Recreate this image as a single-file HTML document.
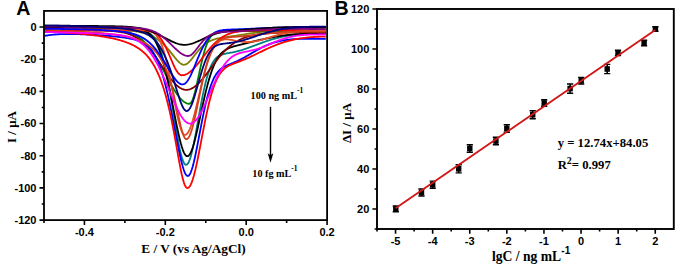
<!DOCTYPE html><html><head><meta charset="utf-8"><style>html,body{margin:0;padding:0;background:#fff;}svg{display:block;}</style></head><body>
<svg width="675" height="265" viewBox="0 0 675 265">
<rect width="675" height="265" fill="#fff"/>
<g fill="none" stroke-width="1.8" stroke-linejoin="round">
<path d="M44.8 27.96 L45.8 27.97 L46.8 27.98 L47.8 27.99 L48.8 28 L49.8 28.01 L50.8 28.02 L51.8 28.04 L52.8 28.05 L53.8 28.06 L54.8 28.07 L55.8 28.08 L56.8 28.09 L57.8 28.1 L58.8 28.12 L59.8 28.13 L60.8 28.14 L61.8 28.16 L62.8 28.17 L63.8 28.18 L64.8 28.2 L65.8 28.21 L66.8 28.22 L67.8 28.24 L68.8 28.25 L69.8 28.27 L70.8 28.28 L71.8 28.3 L72.8 28.31 L73.8 28.33 L74.8 28.35 L75.8 28.36 L76.8 28.38 L77.8 28.4 L78.8 28.42 L79.8 28.43 L80.8 28.45 L81.8 28.47 L82.8 28.49 L83.8 28.51 L84.8 28.53 L85.8 28.55 L86.8 28.58 L87.8 28.6 L88.8 28.62 L89.8 28.64 L90.8 28.67 L91.8 28.69 L92.8 28.72 L93.8 28.74 L94.8 28.77 L95.8 28.8 L96.8 28.83 L97.8 28.85 L98.8 28.88 L99.8 28.91 L100.8 28.95 L101.8 28.98 L102.8 29.01 L103.8 29.05 L104.8 29.08 L105.8 29.12 L106.8 29.16 L107.8 29.2 L108.8 29.24 L109.8 29.28 L110.8 29.32 L111.8 29.37 L112.8 29.42 L113.8 29.46 L114.8 29.52 L115.8 29.57 L116.8 29.62 L117.8 29.68 L118.8 29.74 L119.8 29.8 L120.8 29.86 L121.8 29.93 L122.8 30 L123.8 30.08 L124.8 30.15 L125.8 30.23 L126.8 30.32 L127.8 30.41 L128.8 30.51 L129.8 30.61 L130.8 30.72 L131.8 30.83 L132.8 30.95 L133.8 31.08 L134.8 31.22 L135.8 31.36 L136.8 31.52 L137.8 31.69 L138.8 31.87 L139.8 32.06 L140.8 32.27 L141.8 32.5 L142.8 32.74 L143.8 33 L144.8 33.28 L145.8 33.58 L146.8 33.91 L147.8 34.26 L148.8 34.63 L149.8 35.04 L150.8 35.47 L151.8 35.94 L152.8 36.43 L153.8 36.97 L154.8 37.54 L155.8 38.15 L156.8 38.79 L157.8 39.48 L158.8 40.21 L159.8 40.98 L160.8 41.8 L161.8 42.66 L162.8 43.56 L163.8 44.51 L164.8 45.51 L165.8 46.55 L166.8 47.63 L167.8 48.76 L168.8 49.93 L169.8 51.13 L170.8 52.37 L171.8 53.63 L172.8 54.91 L173.8 56.18 L174.8 57.45 L175.8 58.69 L176.8 59.87 L177.8 60.98 L178.8 62 L179.8 62.89 L180.8 63.63 L181.8 64.2 L182.8 64.58 L183.8 64.77 L184.8 64.71 L185.8 64.41 L186.8 63.89 L187.8 63.17 L188.8 62.27 L189.8 61.23 L190.8 60.09 L191.8 58.86 L192.8 57.59 L193.8 56.29 L194.8 54.99 L195.8 53.7 L196.8 52.44 L197.8 51.22 L198.8 50.04 L199.8 48.93 L200.8 47.87 L201.8 46.87 L202.8 45.94 L203.8 45.08 L204.8 44.28 L205.8 43.54 L206.8 42.86 L207.8 42.24 L208.8 41.68 L209.8 41.17 L210.8 40.7 L211.8 40.28 L212.8 39.9 L213.8 39.56 L214.8 39.25 L215.8 38.97 L216.8 38.71 L217.8 38.48 L218.8 38.27 L219.8 38.07 L220.8 37.88 L221.8 37.71 L222.8 37.54 L223.8 37.39 L224.8 37.23 L225.8 37.09 L226.8 36.94 L227.8 36.8 L228.8 36.66 L229.8 36.52 L230.8 36.38 L231.8 36.24 L232.8 36.1 L233.8 35.95 L234.8 35.81 L235.8 35.66 L236.8 35.52 L237.8 35.37 L238.8 35.22 L239.8 35.07 L240.8 34.91 L241.8 34.76 L242.8 34.61 L243.8 34.45 L244.8 34.29 L245.8 34.14 L246.8 33.98 L247.8 33.83 L248.8 33.67 L249.8 33.51 L250.8 33.36 L251.8 33.21 L252.8 33.05 L253.8 32.9 L254.8 32.75 L255.8 32.6 L256.8 32.46 L257.8 32.31 L258.8 32.17 L259.8 32.03 L260.8 31.9 L261.8 31.76 L262.8 31.63 L263.8 31.5 L264.8 31.38 L265.8 31.26 L266.8 31.14 L267.8 31.02 L268.8 30.91 L269.8 30.8 L270.8 30.69 L271.8 30.59 L272.8 30.49 L273.8 30.4 L274.8 30.31 L275.8 30.22 L276.8 30.14 L277.8 30.05 L278.8 29.98 L279.8 29.9 L280.8 29.83 L281.8 29.76 L282.8 29.7 L283.8 29.64 L284.8 29.58 L285.8 29.52 L286.8 29.47 L287.8 29.42 L288.8 29.37 L289.8 29.33 L290.8 29.29 L291.8 29.25 L292.8 29.21 L293.8 29.17 L294.8 29.14 L295.8 29.11 L296.8 29.08 L297.8 29.05 L298.8 29.02 L299.8 29 L300.8 28.98 L301.8 28.96 L302.8 28.94 L303.8 28.92 L304.8 28.9 L305.8 28.89 L306.8 28.87 L307.8 28.86 L308.8 28.85 L309.8 28.84 L310.8 28.83 L311.8 28.82 L312.8 28.81 L313.8 28.8 L314.8 28.79 L315.8 28.79 L316.8 28.78 L317.8 28.77 L318.8 28.77 L319.8 28.77 L320.8 28.76 L321.8 28.76 L322.8 28.75 L323.8 28.75 L324.8 28.75 L325.8 28.75" stroke="#808000"/>
<path d="M44.8 28.51 L45.8 28.52 L46.8 28.53 L47.8 28.55 L48.8 28.56 L49.8 28.57 L50.8 28.58 L51.8 28.6 L52.8 28.61 L53.8 28.62 L54.8 28.63 L55.8 28.65 L56.8 28.66 L57.8 28.67 L58.8 28.68 L59.8 28.7 L60.8 28.71 L61.8 28.72 L62.8 28.73 L63.8 28.74 L64.8 28.76 L65.8 28.77 L66.8 28.78 L67.8 28.79 L68.8 28.81 L69.8 28.82 L70.8 28.83 L71.8 28.84 L72.8 28.86 L73.8 28.87 L74.8 28.88 L75.8 28.89 L76.8 28.91 L77.8 28.92 L78.8 28.93 L79.8 28.94 L80.8 28.96 L81.8 28.97 L82.8 28.98 L83.8 29 L84.8 29.01 L85.8 29.02 L86.8 29.04 L87.8 29.05 L88.8 29.06 L89.8 29.08 L90.8 29.09 L91.8 29.11 L92.8 29.12 L93.8 29.14 L94.8 29.15 L95.8 29.17 L96.8 29.19 L97.8 29.21 L98.8 29.23 L99.8 29.25 L100.8 29.27 L101.8 29.3 L102.8 29.32 L103.8 29.35 L104.8 29.38 L105.8 29.41 L106.8 29.45 L107.8 29.49 L108.8 29.53 L109.8 29.58 L110.8 29.63 L111.8 29.69 L112.8 29.76 L113.8 29.83 L114.8 29.9 L115.8 29.99 L116.8 30.09 L117.8 30.19 L118.8 30.31 L119.8 30.44 L120.8 30.58 L121.8 30.74 L122.8 30.91 L123.8 31.1 L124.8 31.31 L125.8 31.54 L126.8 31.8 L127.8 32.07 L128.8 32.38 L129.8 32.71 L130.8 33.07 L131.8 33.46 L132.8 33.88 L133.8 34.34 L134.8 34.84 L135.8 35.38 L136.8 35.96 L137.8 36.58 L138.8 37.25 L139.8 37.96 L140.8 38.73 L141.8 39.54 L142.8 40.41 L143.8 41.33 L144.8 42.31 L145.8 43.34 L146.8 44.43 L147.8 45.58 L148.8 46.79 L149.8 48.05 L150.8 49.37 L151.8 50.75 L152.8 52.19 L153.8 53.68 L154.8 55.22 L155.8 56.81 L156.8 58.45 L157.8 60.14 L158.8 61.86 L159.8 63.63 L160.8 65.43 L161.8 67.25 L162.8 69.1 L163.8 70.97 L164.8 72.85 L165.8 74.74 L166.8 76.62 L167.8 78.5 L168.8 80.37 L169.8 82.21 L170.8 84.02 L171.8 85.8 L172.8 87.53 L173.8 89.21 L174.8 90.83 L175.8 92.39 L176.8 93.87 L177.8 95.28 L178.8 96.59 L179.8 97.81 L180.8 98.93 L181.8 99.95 L182.8 100.86 L183.8 101.65 L184.8 102.32 L185.8 102.87 L186.8 103.29 L187.8 103.59 L188.8 103.76 L189.8 103.76 L190.8 103.09 L191.8 101.59 L192.8 99.31 L193.8 96.35 L194.8 92.79 L195.8 88.77 L196.8 84.4 L197.8 79.8 L198.8 75.1 L199.8 70.41 L200.8 65.83 L201.8 61.44 L202.8 57.3 L203.8 53.48 L204.8 50.01 L205.8 46.89 L206.8 44.14 L207.8 41.75 L208.8 39.7 L209.8 37.97 L210.8 36.53 L211.8 35.34 L212.8 34.37 L213.8 33.6 L214.8 32.98 L215.8 32.5 L216.8 32.13 L217.8 31.84 L218.8 31.63 L219.8 31.46 L220.8 31.34 L221.8 31.26 L222.8 31.19 L223.8 31.15 L224.8 31.12 L225.8 31.09 L226.8 31.08 L227.8 31.07 L228.8 31.06 L229.8 31.06 L230.8 31.06 L231.8 31.06 L232.8 31.06 L233.8 31.06 L234.8 31.06 L235.8 31.07 L236.8 31.07 L237.8 31.08 L238.8 31.08 L239.8 31.09 L240.8 31.09 L241.8 31.1 L242.8 31.11 L243.8 31.12 L244.8 31.12 L245.8 31.13 L246.8 31.14 L247.8 31.15 L248.8 31.15 L249.8 31.16 L250.8 31.17 L251.8 31.18 L252.8 31.19 L253.8 31.2 L254.8 31.21 L255.8 31.22 L256.8 31.23 L257.8 31.24 L258.8 31.25 L259.8 31.26 L260.8 31.27 L261.8 31.28 L262.8 31.29 L263.8 31.3 L264.8 31.31 L265.8 31.32 L266.8 31.33 L267.8 31.34 L268.8 31.35 L269.8 31.36 L270.8 31.37 L271.8 31.38 L272.8 31.39 L273.8 31.4 L274.8 31.41 L275.8 31.42 L276.8 31.44 L277.8 31.45 L278.8 31.46 L279.8 31.47 L280.8 31.48 L281.8 31.49 L282.8 31.5 L283.8 31.51 L284.8 31.53 L285.8 31.54 L286.8 31.55 L287.8 31.56 L288.8 31.57 L289.8 31.58 L290.8 31.59 L291.8 31.61 L292.8 31.62 L293.8 31.63 L294.8 31.64 L295.8 31.65 L296.8 31.66 L297.8 31.68 L298.8 31.69 L299.8 31.7 L300.8 31.71 L301.8 31.72 L302.8 31.73 L303.8 31.75 L304.8 31.76 L305.8 31.77 L306.8 31.78 L307.8 31.79 L308.8 31.8 L309.8 31.82 L310.8 31.83 L311.8 31.84 L312.8 31.85 L313.8 31.86 L314.8 31.88 L315.8 31.89 L316.8 31.9 L317.8 31.91 L318.8 31.92 L319.8 31.94 L320.8 31.95 L321.8 31.96 L322.8 31.97 L323.8 31.98 L324.8 32 L325.8 32.01" stroke="#008000"/>
<path d="M44.8 29.01 L45.8 29.03 L46.8 29.04 L47.8 29.06 L48.8 29.08 L49.8 29.09 L50.8 29.11 L51.8 29.12 L52.8 29.14 L53.8 29.16 L54.8 29.17 L55.8 29.19 L56.8 29.2 L57.8 29.22 L58.8 29.24 L59.8 29.25 L60.8 29.27 L61.8 29.28 L62.8 29.3 L63.8 29.31 L64.8 29.33 L65.8 29.35 L66.8 29.36 L67.8 29.38 L68.8 29.39 L69.8 29.41 L70.8 29.43 L71.8 29.44 L72.8 29.46 L73.8 29.47 L74.8 29.49 L75.8 29.51 L76.8 29.52 L77.8 29.54 L78.8 29.55 L79.8 29.57 L80.8 29.58 L81.8 29.6 L82.8 29.62 L83.8 29.63 L84.8 29.65 L85.8 29.66 L86.8 29.68 L87.8 29.7 L88.8 29.71 L89.8 29.73 L90.8 29.74 L91.8 29.76 L92.8 29.78 L93.8 29.79 L94.8 29.81 L95.8 29.82 L96.8 29.84 L97.8 29.86 L98.8 29.87 L99.8 29.89 L100.8 29.9 L101.8 29.92 L102.8 29.93 L103.8 29.95 L104.8 29.97 L105.8 29.98 L106.8 30 L107.8 30.01 L108.8 30.03 L109.8 30.05 L110.8 30.06 L111.8 30.08 L112.8 30.09 L113.8 30.11 L114.8 30.13 L115.8 30.14 L116.8 30.16 L117.8 30.17 L118.8 30.19 L119.8 30.21 L120.8 30.22 L121.8 30.24 L122.8 30.25 L123.8 30.27 L124.8 30.29 L125.8 30.3 L126.8 30.32 L127.8 30.34 L128.8 30.36 L129.8 30.38 L130.8 30.4 L131.8 30.42 L132.8 30.45 L133.8 30.48 L134.8 30.51 L135.8 30.55 L136.8 30.6 L137.8 30.65 L138.8 30.72 L139.8 30.8 L140.8 30.9 L141.8 31.02 L142.8 31.17 L143.8 31.35 L144.8 31.57 L145.8 31.84 L146.8 32.17 L147.8 32.57 L148.8 33.06 L149.8 33.63 L150.8 34.32 L151.8 35.14 L152.8 36.1 L153.8 37.23 L154.8 38.54 L155.8 40.06 L156.8 41.8 L157.8 43.79 L158.8 46.05 L159.8 48.58 L160.8 51.42 L161.8 54.57 L162.8 58.04 L163.8 61.84 L164.8 65.98 L165.8 70.43 L166.8 75.2 L167.8 80.28 L168.8 85.63 L169.8 91.23 L170.8 97.04 L171.8 103.01 L172.8 109.11 L173.8 115.26 L174.8 121.4 L175.8 127.45 L176.8 133.35 L177.8 139 L178.8 144.31 L179.8 149.19 L180.8 153.56 L181.8 157.32 L182.8 160.4 L183.8 162.71 L184.8 164.21 L185.8 164.86 L186.8 164.68 L187.8 163.7 L188.8 161.96 L189.8 159.5 L190.8 156.36 L191.8 152.62 L192.8 148.35 L193.8 143.63 L194.8 138.55 L195.8 133.21 L196.8 127.67 L197.8 122.05 L198.8 116.41 L199.8 110.83 L200.8 105.38 L201.8 100.12 L202.8 95.1 L203.8 90.36 L204.8 85.93 L205.8 81.83 L206.8 78.08 L207.8 74.67 L208.8 71.6 L209.8 68.87 L210.8 66.46 L211.8 64.34 L212.8 62.51 L213.8 60.93 L214.8 59.59 L215.8 58.45 L216.8 57.49 L217.8 56.69 L218.8 56.02 L219.8 55.47 L220.8 55.01 L221.8 54.63 L222.8 54.31 L223.8 54.04 L224.8 53.8 L225.8 53.59 L226.8 53.4 L227.8 53.22 L228.8 53.05 L229.8 52.88 L230.8 52.7 L231.8 52.51 L232.8 52.32 L233.8 52.12 L234.8 51.9 L235.8 51.68 L236.8 51.44 L237.8 51.19 L238.8 50.92 L239.8 50.64 L240.8 50.36 L241.8 50.05 L242.8 49.74 L243.8 49.42 L244.8 49.09 L245.8 48.75 L246.8 48.4 L247.8 48.05 L248.8 47.69 L249.8 47.32 L250.8 46.95 L251.8 46.58 L252.8 46.2 L253.8 45.82 L254.8 45.44 L255.8 45.06 L256.8 44.68 L257.8 44.3 L258.8 43.92 L259.8 43.55 L260.8 43.18 L261.8 42.81 L262.8 42.44 L263.8 42.09 L264.8 41.73 L265.8 41.38 L266.8 41.04 L267.8 40.71 L268.8 40.38 L269.8 40.06 L270.8 39.74 L271.8 39.44 L272.8 39.14 L273.8 38.85 L274.8 38.57 L275.8 38.3 L276.8 38.04 L277.8 37.79 L278.8 37.54 L279.8 37.31 L280.8 37.08 L281.8 36.87 L282.8 36.66 L283.8 36.46 L284.8 36.27 L285.8 36.08 L286.8 35.91 L287.8 35.75 L288.8 35.59 L289.8 35.44 L290.8 35.3 L291.8 35.16 L292.8 35.04 L293.8 34.92 L294.8 34.81 L295.8 34.7 L296.8 34.6 L297.8 34.51 L298.8 34.42 L299.8 34.34 L300.8 34.27 L301.8 34.2 L302.8 34.14 L303.8 34.08 L304.8 34.02 L305.8 33.97 L306.8 33.93 L307.8 33.88 L308.8 33.85 L309.8 33.81 L310.8 33.78 L311.8 33.75 L312.8 33.73 L313.8 33.71 L314.8 33.69 L315.8 33.67 L316.8 33.66 L317.8 33.65 L318.8 33.64 L319.8 33.63 L320.8 33.62 L321.8 33.62 L322.8 33.62 L323.8 33.62 L324.8 33.62 L325.8 33.62" stroke="#008080"/>
<path d="M44.8 27.02 L45.8 27.04 L46.8 27.06 L47.8 27.08 L48.8 27.1 L49.8 27.12 L50.8 27.14 L51.8 27.17 L52.8 27.19 L53.8 27.21 L54.8 27.23 L55.8 27.25 L56.8 27.27 L57.8 27.29 L58.8 27.31 L59.8 27.33 L60.8 27.36 L61.8 27.38 L62.8 27.4 L63.8 27.42 L64.8 27.44 L65.8 27.46 L66.8 27.48 L67.8 27.5 L68.8 27.53 L69.8 27.55 L70.8 27.57 L71.8 27.59 L72.8 27.61 L73.8 27.63 L74.8 27.65 L75.8 27.67 L76.8 27.7 L77.8 27.72 L78.8 27.74 L79.8 27.76 L80.8 27.78 L81.8 27.8 L82.8 27.82 L83.8 27.84 L84.8 27.86 L85.8 27.89 L86.8 27.91 L87.8 27.93 L88.8 27.95 L89.8 27.97 L90.8 27.99 L91.8 28.01 L92.8 28.03 L93.8 28.06 L94.8 28.08 L95.8 28.1 L96.8 28.12 L97.8 28.14 L98.8 28.16 L99.8 28.18 L100.8 28.2 L101.8 28.23 L102.8 28.25 L103.8 28.27 L104.8 28.29 L105.8 28.31 L106.8 28.33 L107.8 28.35 L108.8 28.37 L109.8 28.39 L110.8 28.42 L111.8 28.44 L112.8 28.46 L113.8 28.48 L114.8 28.5 L115.8 28.52 L116.8 28.54 L117.8 28.57 L118.8 28.59 L119.8 28.61 L120.8 28.63 L121.8 28.66 L122.8 28.68 L123.8 28.7 L124.8 28.73 L125.8 28.76 L126.8 28.78 L127.8 28.81 L128.8 28.85 L129.8 28.88 L130.8 28.92 L131.8 28.97 L132.8 29.02 L133.8 29.08 L134.8 29.15 L135.8 29.24 L136.8 29.33 L137.8 29.45 L138.8 29.58 L139.8 29.75 L140.8 29.94 L141.8 30.17 L142.8 30.44 L143.8 30.76 L144.8 31.14 L145.8 31.58 L146.8 32.1 L147.8 32.7 L148.8 33.4 L149.8 34.22 L150.8 35.15 L151.8 36.22 L152.8 37.44 L153.8 38.82 L154.8 40.38 L155.8 42.13 L156.8 44.08 L157.8 46.25 L158.8 48.65 L159.8 51.27 L160.8 54.14 L161.8 57.25 L162.8 60.61 L163.8 64.22 L164.8 68.06 L165.8 72.14 L166.8 76.43 L167.8 80.93 L168.8 85.61 L169.8 90.44 L170.8 95.41 L171.8 100.47 L172.8 105.6 L173.8 110.75 L174.8 115.87 L175.8 120.93 L176.8 125.87 L177.8 130.64 L178.8 135.17 L179.8 139.42 L180.8 143.31 L181.8 146.79 L182.8 149.81 L183.8 152.3 L184.8 154.21 L185.8 155.51 L186.8 156.17 L187.8 156.18 L188.8 155.55 L189.8 154.31 L190.8 152.49 L191.8 150.13 L192.8 147.28 L193.8 143.99 L194.8 140.33 L195.8 136.36 L196.8 132.13 L197.8 127.72 L198.8 123.17 L199.8 118.54 L200.8 113.89 L201.8 109.25 L202.8 104.67 L203.8 100.19 L204.8 95.84 L205.8 91.65 L206.8 87.64 L207.8 83.84 L208.8 80.24 L209.8 76.87 L210.8 73.72 L211.8 70.81 L212.8 68.12 L213.8 65.66 L214.8 63.42 L215.8 61.38 L216.8 59.54 L217.8 57.88 L218.8 56.4 L219.8 55.08 L220.8 53.9 L221.8 52.86 L222.8 51.93 L223.8 51.11 L224.8 50.38 L225.8 49.73 L226.8 49.15 L227.8 48.64 L228.8 48.18 L229.8 47.76 L230.8 47.38 L231.8 47.03 L232.8 46.71 L233.8 46.41 L234.8 46.12 L235.8 45.85 L236.8 45.58 L237.8 45.33 L238.8 45.08 L239.8 44.83 L240.8 44.59 L241.8 44.35 L242.8 44.1 L243.8 43.86 L244.8 43.62 L245.8 43.38 L246.8 43.14 L247.8 42.89 L248.8 42.65 L249.8 42.4 L250.8 42.16 L251.8 41.91 L252.8 41.67 L253.8 41.42 L254.8 41.18 L255.8 40.94 L256.8 40.69 L257.8 40.45 L258.8 40.21 L259.8 39.98 L260.8 39.74 L261.8 39.51 L262.8 39.28 L263.8 39.05 L264.8 38.83 L265.8 38.61 L266.8 38.39 L267.8 38.18 L268.8 37.97 L269.8 37.77 L270.8 37.57 L271.8 37.38 L272.8 37.19 L273.8 37 L274.8 36.82 L275.8 36.65 L276.8 36.48 L277.8 36.31 L278.8 36.15 L279.8 36 L280.8 35.85 L281.8 35.71 L282.8 35.57 L283.8 35.44 L284.8 35.31 L285.8 35.19 L286.8 35.07 L287.8 34.96 L288.8 34.85 L289.8 34.75 L290.8 34.65 L291.8 34.56 L292.8 34.47 L293.8 34.39 L294.8 34.31 L295.8 34.24 L296.8 34.17 L297.8 34.1 L298.8 34.04 L299.8 33.98 L300.8 33.93 L301.8 33.88 L302.8 33.83 L303.8 33.79 L304.8 33.75 L305.8 33.71 L306.8 33.68 L307.8 33.65 L308.8 33.62 L309.8 33.59 L310.8 33.57 L311.8 33.55 L312.8 33.53 L313.8 33.51 L314.8 33.5 L315.8 33.49 L316.8 33.48 L317.8 33.47 L318.8 33.46 L319.8 33.46 L320.8 33.46 L321.8 33.45 L322.8 33.45 L323.8 33.45 L324.8 33.46 L325.8 33.46" stroke="#000000"/>
<path d="M44.8 30.01 L45.8 30.02 L46.8 30.02 L47.8 30.03 L48.8 30.04 L49.8 30.05 L50.8 30.06 L51.8 30.07 L52.8 30.08 L53.8 30.09 L54.8 30.1 L55.8 30.1 L56.8 30.11 L57.8 30.12 L58.8 30.13 L59.8 30.14 L60.8 30.15 L61.8 30.16 L62.8 30.17 L63.8 30.17 L64.8 30.18 L65.8 30.19 L66.8 30.2 L67.8 30.21 L68.8 30.22 L69.8 30.23 L70.8 30.24 L71.8 30.25 L72.8 30.26 L73.8 30.26 L74.8 30.27 L75.8 30.28 L76.8 30.29 L77.8 30.3 L78.8 30.31 L79.8 30.32 L80.8 30.33 L81.8 30.34 L82.8 30.35 L83.8 30.36 L84.8 30.37 L85.8 30.38 L86.8 30.39 L87.8 30.4 L88.8 30.41 L89.8 30.42 L90.8 30.43 L91.8 30.45 L92.8 30.46 L93.8 30.47 L94.8 30.49 L95.8 30.5 L96.8 30.52 L97.8 30.54 L98.8 30.56 L99.8 30.58 L100.8 30.6 L101.8 30.63 L102.8 30.65 L103.8 30.68 L104.8 30.71 L105.8 30.75 L106.8 30.79 L107.8 30.83 L108.8 30.88 L109.8 30.94 L110.8 31 L111.8 31.06 L112.8 31.13 L113.8 31.22 L114.8 31.3 L115.8 31.4 L116.8 31.51 L117.8 31.63 L118.8 31.77 L119.8 31.91 L120.8 32.08 L121.8 32.25 L122.8 32.45 L123.8 32.66 L124.8 32.89 L125.8 33.15 L126.8 33.43 L127.8 33.73 L128.8 34.06 L129.8 34.41 L130.8 34.8 L131.8 35.21 L132.8 35.66 L133.8 36.14 L134.8 36.66 L135.8 37.21 L136.8 37.81 L137.8 38.44 L138.8 39.12 L139.8 39.83 L140.8 40.59 L141.8 41.4 L142.8 42.25 L143.8 43.14 L144.8 44.08 L145.8 45.07 L146.8 46.1 L147.8 47.17 L148.8 48.29 L149.8 49.46 L150.8 50.66 L151.8 51.91 L152.8 53.19 L153.8 54.51 L154.8 55.86 L155.8 57.25 L156.8 58.66 L157.8 60.09 L158.8 61.54 L159.8 63.01 L160.8 64.49 L161.8 65.98 L162.8 67.46 L163.8 68.94 L164.8 70.41 L165.8 71.87 L166.8 73.31 L167.8 74.72 L168.8 76.09 L169.8 77.44 L170.8 78.73 L171.8 79.98 L172.8 81.18 L173.8 82.32 L174.8 83.4 L175.8 84.41 L176.8 85.35 L177.8 86.21 L178.8 86.99 L179.8 87.69 L180.8 88.3 L181.8 88.81 L182.8 89.22 L183.8 89.53 L184.8 89.74 L185.8 89.84 L186.8 89.83 L187.8 89.74 L188.8 89.55 L189.8 89.27 L190.8 88.9 L191.8 88.44 L192.8 87.9 L193.8 87.28 L194.8 86.57 L195.8 85.8 L196.8 84.95 L197.8 84.03 L198.8 83.05 L199.8 82.01 L200.8 80.92 L201.8 79.78 L202.8 78.59 L203.8 77.37 L204.8 76.12 L205.8 74.83 L206.8 73.52 L207.8 72.2 L208.8 70.86 L209.8 69.51 L210.8 68.16 L211.8 66.8 L212.8 65.46 L213.8 64.12 L214.8 62.8 L215.8 61.49 L216.8 60.2 L217.8 58.93 L218.8 57.69 L219.8 56.48 L220.8 55.3 L221.8 54.15 L222.8 53.03 L223.8 51.95 L224.8 50.91 L225.8 49.9 L226.8 48.93 L227.8 48 L228.8 47.1 L229.8 46.25 L230.8 45.43 L231.8 44.66 L232.8 43.91 L233.8 43.21 L234.8 42.54 L235.8 41.91 L236.8 41.31 L237.8 40.74 L238.8 40.21 L239.8 39.7 L240.8 39.23 L241.8 38.78 L242.8 38.36 L243.8 37.97 L244.8 37.6 L245.8 37.25 L246.8 36.92 L247.8 36.62 L248.8 36.33 L249.8 36.06 L250.8 35.81 L251.8 35.58 L252.8 35.36 L253.8 35.15 L254.8 34.96 L255.8 34.78 L256.8 34.61 L257.8 34.46 L258.8 34.31 L259.8 34.17 L260.8 34.04 L261.8 33.92 L262.8 33.81 L263.8 33.7 L264.8 33.6 L265.8 33.51 L266.8 33.42 L267.8 33.34 L268.8 33.26 L269.8 33.19 L270.8 33.12 L271.8 33.05 L272.8 32.99 L273.8 32.94 L274.8 32.89 L275.8 32.84 L276.8 32.79 L277.8 32.75 L278.8 32.71 L279.8 32.68 L280.8 32.64 L281.8 32.61 L282.8 32.58 L283.8 32.56 L284.8 32.53 L285.8 32.51 L286.8 32.49 L287.8 32.47 L288.8 32.46 L289.8 32.44 L290.8 32.43 L291.8 32.42 L292.8 32.41 L293.8 32.4 L294.8 32.39 L295.8 32.38 L296.8 32.38 L297.8 32.37 L298.8 32.37 L299.8 32.37 L300.8 32.37 L301.8 32.37 L302.8 32.37 L303.8 32.37 L304.8 32.37 L305.8 32.37 L306.8 32.37 L307.8 32.38 L308.8 32.38 L309.8 32.39 L310.8 32.39 L311.8 32.4 L312.8 32.4 L313.8 32.41 L314.8 32.41 L315.8 32.42 L316.8 32.43 L317.8 32.43 L318.8 32.44 L319.8 32.45 L320.8 32.46 L321.8 32.46 L322.8 32.47 L323.8 32.48 L324.8 32.49 L325.8 32.49" stroke="#800000"/>
<path d="M44.8 35.87 L45.8 35.67 L46.8 35.49 L47.8 35.32 L48.8 35.17 L49.8 35.03 L50.8 34.9 L51.8 34.79 L52.8 34.68 L53.8 34.59 L54.8 34.5 L55.8 34.43 L56.8 34.36 L57.8 34.3 L58.8 34.25 L59.8 34.2 L60.8 34.16 L61.8 34.13 L62.8 34.1 L63.8 34.08 L64.8 34.06 L65.8 34.05 L66.8 34.04 L67.8 34.03 L68.8 34.03 L69.8 34.04 L70.8 34.04 L71.8 34.05 L72.8 34.06 L73.8 34.08 L74.8 34.1 L75.8 34.12 L76.8 34.14 L77.8 34.16 L78.8 34.19 L79.8 34.22 L80.8 34.25 L81.8 34.29 L82.8 34.32 L83.8 34.36 L84.8 34.4 L85.8 34.44 L86.8 34.49 L87.8 34.53 L88.8 34.58 L89.8 34.63 L90.8 34.68 L91.8 34.73 L92.8 34.79 L93.8 34.84 L94.8 34.9 L95.8 34.96 L96.8 35.02 L97.8 35.09 L98.8 35.15 L99.8 35.22 L100.8 35.29 L101.8 35.36 L102.8 35.43 L103.8 35.5 L104.8 35.58 L105.8 35.66 L106.8 35.74 L107.8 35.82 L108.8 35.91 L109.8 36 L110.8 36.09 L111.8 36.18 L112.8 36.28 L113.8 36.38 L114.8 36.48 L115.8 36.59 L116.8 36.7 L117.8 36.81 L118.8 36.93 L119.8 37.05 L120.8 37.18 L121.8 37.31 L122.8 37.44 L123.8 37.59 L124.8 37.73 L125.8 37.89 L126.8 38.05 L127.8 38.22 L128.8 38.4 L129.8 38.58 L130.8 38.78 L131.8 38.99 L132.8 39.22 L133.8 39.46 L134.8 39.72 L135.8 39.99 L136.8 40.29 L137.8 40.62 L138.8 40.97 L139.8 41.36 L140.8 41.78 L141.8 42.25 L142.8 42.76 L143.8 43.32 L144.8 43.95 L145.8 44.64 L146.8 45.4 L147.8 46.25 L148.8 47.19 L149.8 48.23 L150.8 49.38 L151.8 50.66 L152.8 52.06 L153.8 53.61 L154.8 55.3 L155.8 57.17 L156.8 59.2 L157.8 61.42 L158.8 63.83 L159.8 66.44 L160.8 69.25 L161.8 72.28 L162.8 75.51 L163.8 78.97 L164.8 82.63 L165.8 86.51 L166.8 90.6 L167.8 94.89 L168.8 99.36 L169.8 104.01 L170.8 108.82 L171.8 113.77 L172.8 118.83 L173.8 123.98 L174.8 129.19 L175.8 134.42 L176.8 139.62 L177.8 144.74 L178.8 149.72 L179.8 154.49 L180.8 158.99 L181.8 163.12 L182.8 166.82 L183.8 169.99 L184.8 172.56 L185.8 174.46 L186.8 175.63 L187.8 176.02 L188.8 175.57 L189.8 174.31 L190.8 172.28 L191.8 169.55 L192.8 166.18 L193.8 162.28 L194.8 157.94 L195.8 153.23 L196.8 148.26 L197.8 143.11 L198.8 137.86 L199.8 132.58 L200.8 127.33 L201.8 122.17 L202.8 117.16 L203.8 112.33 L204.8 107.72 L205.8 103.35 L206.8 99.25 L207.8 95.42 L208.8 91.89 L209.8 88.64 L210.8 85.68 L211.8 83.01 L212.8 80.6 L213.8 78.44 L214.8 76.53 L215.8 74.84 L216.8 73.35 L217.8 72.04 L218.8 70.9 L219.8 69.9 L220.8 69.02 L221.8 68.25 L222.8 67.57 L223.8 66.97 L224.8 66.43 L225.8 65.94 L226.8 65.48 L227.8 65.05 L228.8 64.63 L229.8 64.23 L230.8 63.83 L231.8 63.43 L232.8 63.02 L233.8 62.61 L234.8 62.18 L235.8 61.74 L236.8 61.29 L237.8 60.83 L238.8 60.34 L239.8 59.85 L240.8 59.34 L241.8 58.81 L242.8 58.27 L243.8 57.73 L244.8 57.17 L245.8 56.6 L246.8 56.02 L247.8 55.44 L248.8 54.86 L249.8 54.27 L250.8 53.68 L251.8 53.1 L252.8 52.51 L253.8 51.93 L254.8 51.35 L255.8 50.78 L256.8 50.22 L257.8 49.66 L258.8 49.12 L259.8 48.59 L260.8 48.06 L261.8 47.56 L262.8 47.06 L263.8 46.58 L264.8 46.12 L265.8 45.67 L266.8 45.23 L267.8 44.82 L268.8 44.41 L269.8 44.03 L270.8 43.66 L271.8 43.31 L272.8 42.98 L273.8 42.66 L274.8 42.36 L275.8 42.07 L276.8 41.8 L277.8 41.55 L278.8 41.31 L279.8 41.08 L280.8 40.87 L281.8 40.67 L282.8 40.49 L283.8 40.32 L284.8 40.16 L285.8 40.02 L286.8 39.88 L287.8 39.75 L288.8 39.64 L289.8 39.54 L290.8 39.44 L291.8 39.35 L292.8 39.27 L293.8 39.2 L294.8 39.14 L295.8 39.08 L296.8 39.03 L297.8 38.98 L298.8 38.94 L299.8 38.91 L300.8 38.88 L301.8 38.85 L302.8 38.83 L303.8 38.81 L304.8 38.8 L305.8 38.78 L306.8 38.77 L307.8 38.77 L308.8 38.76 L309.8 38.76 L310.8 38.76 L311.8 38.77 L312.8 38.77 L313.8 38.77 L314.8 38.78 L315.8 38.79 L316.8 38.8 L317.8 38.81 L318.8 38.82 L319.8 38.83 L320.8 38.85 L321.8 38.86 L322.8 38.87 L323.8 38.89 L324.8 38.9 L325.8 38.92" stroke="#0000ff"/>
<path d="M44.8 30.3 L45.8 30.3 L46.8 30.3 L47.8 30.3 L48.8 30.3 L49.8 30.3 L50.8 30.3 L51.8 30.31 L52.8 30.31 L53.8 30.31 L54.8 30.31 L55.8 30.31 L56.8 30.31 L57.8 30.31 L58.8 30.31 L59.8 30.31 L60.8 30.31 L61.8 30.31 L62.8 30.31 L63.8 30.31 L64.8 30.31 L65.8 30.32 L66.8 30.32 L67.8 30.32 L68.8 30.32 L69.8 30.32 L70.8 30.32 L71.8 30.32 L72.8 30.32 L73.8 30.32 L74.8 30.32 L75.8 30.32 L76.8 30.32 L77.8 30.32 L78.8 30.32 L79.8 30.33 L80.8 30.33 L81.8 30.33 L82.8 30.33 L83.8 30.33 L84.8 30.33 L85.8 30.33 L86.8 30.33 L87.8 30.33 L88.8 30.33 L89.8 30.33 L90.8 30.33 L91.8 30.33 L92.8 30.33 L93.8 30.34 L94.8 30.34 L95.8 30.34 L96.8 30.34 L97.8 30.34 L98.8 30.34 L99.8 30.34 L100.8 30.34 L101.8 30.34 L102.8 30.34 L103.8 30.34 L104.8 30.34 L105.8 30.34 L106.8 30.34 L107.8 30.35 L108.8 30.35 L109.8 30.35 L110.8 30.35 L111.8 30.35 L112.8 30.35 L113.8 30.35 L114.8 30.35 L115.8 30.35 L116.8 30.35 L117.8 30.35 L118.8 30.35 L119.8 30.35 L120.8 30.35 L121.8 30.36 L122.8 30.36 L123.8 30.36 L124.8 30.36 L125.8 30.36 L126.8 30.36 L127.8 30.36 L128.8 30.36 L129.8 30.36 L130.8 30.36 L131.8 30.37 L132.8 30.37 L133.8 30.37 L134.8 30.37 L135.8 30.38 L136.8 30.39 L137.8 30.39 L138.8 30.41 L139.8 30.42 L140.8 30.44 L141.8 30.47 L142.8 30.51 L143.8 30.55 L144.8 30.61 L145.8 30.69 L146.8 30.79 L147.8 30.92 L148.8 31.08 L149.8 31.28 L150.8 31.53 L151.8 31.83 L152.8 32.2 L153.8 32.64 L154.8 33.16 L155.8 33.79 L156.8 34.52 L157.8 35.37 L158.8 36.35 L159.8 37.46 L160.8 38.72 L161.8 40.13 L162.8 41.7 L163.8 43.41 L164.8 45.27 L165.8 47.27 L166.8 49.38 L167.8 51.6 L168.8 53.9 L169.8 56.26 L170.8 58.63 L171.8 60.99 L172.8 63.29 L173.8 65.49 L174.8 67.56 L175.8 69.46 L176.8 71.14 L177.8 72.57 L178.8 73.72 L179.8 74.56 L180.8 75.08 L181.8 75.26 L182.8 75.21 L183.8 75.06 L184.8 74.81 L185.8 74.45 L186.8 74 L187.8 73.45 L188.8 72.81 L189.8 72.09 L190.8 71.28 L191.8 70.4 L192.8 69.44 L193.8 68.42 L194.8 67.34 L195.8 66.21 L196.8 65.03 L197.8 63.82 L198.8 62.57 L199.8 61.3 L200.8 60.01 L201.8 58.71 L202.8 57.4 L203.8 56.09 L204.8 54.79 L205.8 53.51 L206.8 52.24 L207.8 50.99 L208.8 49.77 L209.8 48.58 L210.8 47.42 L211.8 46.3 L212.8 45.22 L213.8 44.19 L214.8 43.19 L215.8 42.24 L216.8 41.34 L217.8 40.48 L218.8 39.67 L219.8 38.9 L220.8 38.18 L221.8 37.5 L222.8 36.87 L223.8 36.28 L224.8 35.74 L225.8 35.23 L226.8 34.76 L227.8 34.33 L228.8 33.93 L229.8 33.57 L230.8 33.24 L231.8 32.94 L232.8 32.66 L233.8 32.41 L234.8 32.19 L235.8 31.98 L236.8 31.8 L237.8 31.64 L238.8 31.49 L239.8 31.36 L240.8 31.24 L241.8 31.14 L242.8 31.05 L243.8 30.97 L244.8 30.9 L245.8 30.84 L246.8 30.78 L247.8 30.74 L248.8 30.7 L249.8 30.66 L250.8 30.63 L251.8 30.6 L252.8 30.58 L253.8 30.56 L254.8 30.54 L255.8 30.53 L256.8 30.52 L257.8 30.51 L258.8 30.5 L259.8 30.49 L260.8 30.49 L261.8 30.48 L262.8 30.48 L263.8 30.47 L264.8 30.47 L265.8 30.47 L266.8 30.47 L267.8 30.47 L268.8 30.47 L269.8 30.47 L270.8 30.46 L271.8 30.46 L272.8 30.46 L273.8 30.46 L274.8 30.47 L275.8 30.47 L276.8 30.47 L277.8 30.47 L278.8 30.47 L279.8 30.47 L280.8 30.47 L281.8 30.47 L282.8 30.47 L283.8 30.47 L284.8 30.47 L285.8 30.47 L286.8 30.47 L287.8 30.47 L288.8 30.47 L289.8 30.47 L290.8 30.47 L291.8 30.48 L292.8 30.48 L293.8 30.48 L294.8 30.48 L295.8 30.48 L296.8 30.48 L297.8 30.48 L298.8 30.48 L299.8 30.48 L300.8 30.48 L301.8 30.48 L302.8 30.48 L303.8 30.48 L304.8 30.48 L305.8 30.48 L306.8 30.49 L307.8 30.49 L308.8 30.49 L309.8 30.49 L310.8 30.49 L311.8 30.49 L312.8 30.49 L313.8 30.49 L314.8 30.49 L315.8 30.49 L316.8 30.49 L317.8 30.49 L318.8 30.49 L319.8 30.49 L320.8 30.5 L321.8 30.5 L322.8 30.5 L323.8 30.5 L324.8 30.5 L325.8 30.5" stroke="#ff0000"/>
<path d="M44.8 29.01 L45.8 29.01 L46.8 29.02 L47.8 29.03 L48.8 29.03 L49.8 29.04 L50.8 29.05 L51.8 29.06 L52.8 29.06 L53.8 29.07 L54.8 29.08 L55.8 29.08 L56.8 29.09 L57.8 29.1 L58.8 29.1 L59.8 29.11 L60.8 29.12 L61.8 29.13 L62.8 29.13 L63.8 29.14 L64.8 29.15 L65.8 29.15 L66.8 29.16 L67.8 29.17 L68.8 29.18 L69.8 29.18 L70.8 29.19 L71.8 29.2 L72.8 29.2 L73.8 29.21 L74.8 29.22 L75.8 29.22 L76.8 29.23 L77.8 29.24 L78.8 29.25 L79.8 29.25 L80.8 29.26 L81.8 29.27 L82.8 29.27 L83.8 29.28 L84.8 29.29 L85.8 29.3 L86.8 29.3 L87.8 29.31 L88.8 29.32 L89.8 29.32 L90.8 29.33 L91.8 29.34 L92.8 29.34 L93.8 29.35 L94.8 29.36 L95.8 29.37 L96.8 29.37 L97.8 29.38 L98.8 29.39 L99.8 29.39 L100.8 29.4 L101.8 29.41 L102.8 29.42 L103.8 29.42 L104.8 29.43 L105.8 29.44 L106.8 29.44 L107.8 29.45 L108.8 29.46 L109.8 29.46 L110.8 29.47 L111.8 29.48 L112.8 29.49 L113.8 29.49 L114.8 29.5 L115.8 29.51 L116.8 29.51 L117.8 29.52 L118.8 29.53 L119.8 29.54 L120.8 29.54 L121.8 29.55 L122.8 29.56 L123.8 29.56 L124.8 29.57 L125.8 29.58 L126.8 29.59 L127.8 29.59 L128.8 29.6 L129.8 29.61 L130.8 29.62 L131.8 29.62 L132.8 29.63 L133.8 29.64 L134.8 29.65 L135.8 29.67 L136.8 29.68 L137.8 29.7 L138.8 29.72 L139.8 29.75 L140.8 29.78 L141.8 29.83 L142.8 29.88 L143.8 29.95 L144.8 30.04 L145.8 30.16 L146.8 30.3 L147.8 30.49 L148.8 30.72 L149.8 31.02 L150.8 31.38 L151.8 31.83 L152.8 32.39 L153.8 33.06 L154.8 33.88 L155.8 34.85 L156.8 36.01 L157.8 37.38 L158.8 38.98 L159.8 40.84 L160.8 42.97 L161.8 45.4 L162.8 48.15 L163.8 51.22 L164.8 54.63 L165.8 58.38 L166.8 62.45 L167.8 66.84 L168.8 71.51 L169.8 76.43 L170.8 81.57 L171.8 86.86 L172.8 92.24 L173.8 97.63 L174.8 102.97 L175.8 108.16 L176.8 113.12 L177.8 117.76 L178.8 122 L179.8 125.75 L180.8 128.94 L181.8 131.5 L182.8 133.39 L183.8 134.56 L184.8 134.98 L185.8 134.77 L186.8 134.06 L187.8 132.85 L188.8 131.18 L189.8 129.06 L190.8 126.52 L191.8 123.6 L192.8 120.34 L193.8 116.78 L194.8 112.98 L195.8 108.98 L196.8 104.83 L197.8 100.58 L198.8 96.27 L199.8 91.96 L200.8 87.68 L201.8 83.48 L202.8 79.39 L203.8 75.44 L204.8 71.67 L205.8 68.08 L206.8 64.7 L207.8 61.55 L208.8 58.62 L209.8 55.94 L210.8 53.49 L211.8 51.28 L212.8 49.29 L213.8 47.53 L214.8 45.99 L215.8 44.64 L216.8 43.49 L217.8 42.51 L218.8 41.7 L219.8 41.03 L220.8 40.5 L221.8 40.08 L222.8 39.78 L223.8 39.57 L224.8 39.44 L225.8 39.38 L226.8 39.38 L227.8 39.44 L228.8 39.53 L229.8 39.66 L230.8 39.81 L231.8 39.98 L232.8 40.17 L233.8 40.36 L234.8 40.56 L235.8 40.76 L236.8 40.95 L237.8 41.13 L238.8 41.3 L239.8 41.45 L240.8 41.6 L241.8 41.72 L242.8 41.82 L243.8 41.91 L244.8 41.97 L245.8 42.01 L246.8 42.03 L247.8 42.02 L248.8 41.99 L249.8 41.94 L250.8 41.87 L251.8 41.77 L252.8 41.65 L253.8 41.51 L254.8 41.35 L255.8 41.17 L256.8 40.98 L257.8 40.76 L258.8 40.53 L259.8 40.28 L260.8 40.03 L261.8 39.75 L262.8 39.47 L263.8 39.18 L264.8 38.89 L265.8 38.59 L266.8 38.28 L267.8 37.97 L268.8 37.66 L269.8 37.35 L270.8 37.04 L271.8 36.73 L272.8 36.42 L273.8 36.12 L274.8 35.83 L275.8 35.54 L276.8 35.26 L277.8 34.99 L278.8 34.72 L279.8 34.47 L280.8 34.22 L281.8 33.99 L282.8 33.76 L283.8 33.55 L284.8 33.34 L285.8 33.15 L286.8 32.97 L287.8 32.79 L288.8 32.63 L289.8 32.48 L290.8 32.34 L291.8 32.21 L292.8 32.08 L293.8 31.97 L294.8 31.86 L295.8 31.77 L296.8 31.68 L297.8 31.6 L298.8 31.52 L299.8 31.46 L300.8 31.4 L301.8 31.34 L302.8 31.29 L303.8 31.25 L304.8 31.21 L305.8 31.18 L306.8 31.15 L307.8 31.12 L308.8 31.1 L309.8 31.08 L310.8 31.06 L311.8 31.04 L312.8 31.03 L313.8 31.02 L314.8 31.01 L315.8 31.01 L316.8 31 L317.8 31 L318.8 31 L319.8 31 L320.8 31 L321.8 31 L322.8 31 L323.8 31 L324.8 31.01 L325.8 31.01" stroke="#e8502a"/>
<path d="M44.8 30.55 L45.8 30.58 L46.8 30.6 L47.8 30.63 L48.8 30.66 L49.8 30.68 L50.8 30.71 L51.8 30.74 L52.8 30.77 L53.8 30.8 L54.8 30.82 L55.8 30.85 L56.8 30.88 L57.8 30.91 L58.8 30.95 L59.8 30.98 L60.8 31.01 L61.8 31.04 L62.8 31.08 L63.8 31.11 L64.8 31.15 L65.8 31.18 L66.8 31.22 L67.8 31.25 L68.8 31.29 L69.8 31.33 L70.8 31.37 L71.8 31.41 L72.8 31.45 L73.8 31.49 L74.8 31.53 L75.8 31.58 L76.8 31.62 L77.8 31.67 L78.8 31.71 L79.8 31.76 L80.8 31.81 L81.8 31.86 L82.8 31.91 L83.8 31.96 L84.8 32.01 L85.8 32.07 L86.8 32.12 L87.8 32.18 L88.8 32.24 L89.8 32.3 L90.8 32.36 L91.8 32.43 L92.8 32.49 L93.8 32.56 L94.8 32.63 L95.8 32.7 L96.8 32.77 L97.8 32.85 L98.8 32.93 L99.8 33.01 L100.8 33.09 L101.8 33.17 L102.8 33.26 L103.8 33.35 L104.8 33.44 L105.8 33.54 L106.8 33.64 L107.8 33.74 L108.8 33.85 L109.8 33.96 L110.8 34.07 L111.8 34.19 L112.8 34.31 L113.8 34.44 L114.8 34.57 L115.8 34.71 L116.8 34.85 L117.8 35 L118.8 35.15 L119.8 35.31 L120.8 35.48 L121.8 35.65 L122.8 35.83 L123.8 36.02 L124.8 36.21 L125.8 36.42 L126.8 36.63 L127.8 36.86 L128.8 37.09 L129.8 37.34 L130.8 37.59 L131.8 37.86 L132.8 38.14 L133.8 38.44 L134.8 38.75 L135.8 39.08 L136.8 39.43 L137.8 39.79 L138.8 40.18 L139.8 40.58 L140.8 41.01 L141.8 41.46 L142.8 41.94 L143.8 42.45 L144.8 42.99 L145.8 43.56 L146.8 44.17 L147.8 44.82 L148.8 45.51 L149.8 46.24 L150.8 47.03 L151.8 47.86 L152.8 48.76 L153.8 49.72 L154.8 50.75 L155.8 51.85 L156.8 53.04 L157.8 54.31 L158.8 55.69 L159.8 57.16 L160.8 58.76 L161.8 60.48 L162.8 62.33 L163.8 64.33 L164.8 66.5 L165.8 68.83 L166.8 71.36 L167.8 74.08 L168.8 77.01 L169.8 80.17 L170.8 83.55 L171.8 87.17 L172.8 91.02 L173.8 95.09 L174.8 99.37 L175.8 103.83 L176.8 108.4 L177.8 113.04 L178.8 117.66 L179.8 122.15 L180.8 126.38 L181.8 130.22 L182.8 133.54 L183.8 136.19 L184.8 138.05 L185.8 139.04 L186.8 139.14 L187.8 138.53 L188.8 137.24 L189.8 135.32 L190.8 132.8 L191.8 129.74 L192.8 126.2 L193.8 122.26 L194.8 117.98 L195.8 113.44 L196.8 108.7 L197.8 103.86 L198.8 98.95 L199.8 94.06 L200.8 89.24 L201.8 84.54 L202.8 79.99 L203.8 75.65 L204.8 71.53 L205.8 67.67 L206.8 64.07 L207.8 60.75 L208.8 57.71 L209.8 54.95 L210.8 52.46 L211.8 50.24 L212.8 48.27 L213.8 46.53 L214.8 45.01 L215.8 43.7 L216.8 42.57 L217.8 41.6 L218.8 40.78 L219.8 40.08 L220.8 39.5 L221.8 39.01 L222.8 38.61 L223.8 38.28 L224.8 38.01 L225.8 37.78 L226.8 37.59 L227.8 37.44 L228.8 37.31 L229.8 37.2 L230.8 37.1 L231.8 37.02 L232.8 36.94 L233.8 36.87 L234.8 36.8 L235.8 36.73 L236.8 36.66 L237.8 36.59 L238.8 36.52 L239.8 36.44 L240.8 36.36 L241.8 36.28 L242.8 36.19 L243.8 36.1 L244.8 36.01 L245.8 35.92 L246.8 35.82 L247.8 35.72 L248.8 35.61 L249.8 35.5 L250.8 35.39 L251.8 35.28 L252.8 35.17 L253.8 35.05 L254.8 34.94 L255.8 34.82 L256.8 34.7 L257.8 34.59 L258.8 34.47 L259.8 34.35 L260.8 34.24 L261.8 34.12 L262.8 34.01 L263.8 33.9 L264.8 33.79 L265.8 33.68 L266.8 33.57 L267.8 33.47 L268.8 33.37 L269.8 33.27 L270.8 33.17 L271.8 33.08 L272.8 32.99 L273.8 32.9 L274.8 32.82 L275.8 32.74 L276.8 32.66 L277.8 32.59 L278.8 32.52 L279.8 32.45 L280.8 32.38 L281.8 32.32 L282.8 32.26 L283.8 32.21 L284.8 32.16 L285.8 32.11 L286.8 32.06 L287.8 32.02 L288.8 31.98 L289.8 31.94 L290.8 31.91 L291.8 31.87 L292.8 31.84 L293.8 31.81 L294.8 31.79 L295.8 31.77 L296.8 31.74 L297.8 31.72 L298.8 31.71 L299.8 31.69 L300.8 31.68 L301.8 31.66 L302.8 31.65 L303.8 31.64 L304.8 31.63 L305.8 31.63 L306.8 31.62 L307.8 31.61 L308.8 31.61 L309.8 31.61 L310.8 31.6 L311.8 31.6 L312.8 31.6 L313.8 31.6 L314.8 31.6 L315.8 31.6 L316.8 31.6 L317.8 31.6 L318.8 31.6 L319.8 31.61 L320.8 31.61 L321.8 31.61 L322.8 31.62 L323.8 31.62 L324.8 31.63 L325.8 31.63" stroke="#d2401e"/>
<path d="M44.8 28.82 L45.8 28.82 L46.8 28.83 L47.8 28.84 L48.8 28.85 L49.8 28.86 L50.8 28.87 L51.8 28.88 L52.8 28.89 L53.8 28.9 L54.8 28.91 L55.8 28.92 L56.8 28.93 L57.8 28.94 L58.8 28.96 L59.8 28.97 L60.8 28.98 L61.8 28.99 L62.8 29.01 L63.8 29.02 L64.8 29.04 L65.8 29.05 L66.8 29.07 L67.8 29.08 L68.8 29.1 L69.8 29.12 L70.8 29.13 L71.8 29.15 L72.8 29.17 L73.8 29.19 L74.8 29.21 L75.8 29.23 L76.8 29.25 L77.8 29.27 L78.8 29.29 L79.8 29.32 L80.8 29.34 L81.8 29.36 L82.8 29.39 L83.8 29.42 L84.8 29.44 L85.8 29.47 L86.8 29.5 L87.8 29.53 L88.8 29.56 L89.8 29.59 L90.8 29.62 L91.8 29.66 L92.8 29.69 L93.8 29.73 L94.8 29.77 L95.8 29.81 L96.8 29.85 L97.8 29.89 L98.8 29.93 L99.8 29.98 L100.8 30.02 L101.8 30.07 L102.8 30.12 L103.8 30.18 L104.8 30.23 L105.8 30.29 L106.8 30.35 L107.8 30.41 L108.8 30.47 L109.8 30.54 L110.8 30.61 L111.8 30.68 L112.8 30.76 L113.8 30.84 L114.8 30.93 L115.8 31.01 L116.8 31.11 L117.8 31.21 L118.8 31.31 L119.8 31.42 L120.8 31.54 L121.8 31.67 L122.8 31.8 L123.8 31.94 L124.8 32.09 L125.8 32.26 L126.8 32.43 L127.8 32.61 L128.8 32.81 L129.8 33.03 L130.8 33.26 L131.8 33.51 L132.8 33.77 L133.8 34.06 L134.8 34.37 L135.8 34.7 L136.8 35.06 L137.8 35.45 L138.8 35.87 L139.8 36.31 L140.8 36.8 L141.8 37.31 L142.8 37.87 L143.8 38.47 L144.8 39.11 L145.8 39.79 L146.8 40.52 L147.8 41.3 L148.8 42.12 L149.8 43 L150.8 43.93 L151.8 44.92 L152.8 45.96 L153.8 47.06 L154.8 48.21 L155.8 49.42 L156.8 50.68 L157.8 52 L158.8 53.37 L159.8 54.79 L160.8 56.26 L161.8 57.78 L162.8 59.34 L163.8 60.94 L164.8 62.57 L165.8 64.22 L166.8 65.89 L167.8 67.57 L168.8 69.25 L169.8 70.92 L170.8 72.57 L171.8 74.18 L172.8 75.73 L173.8 77.21 L174.8 78.6 L175.8 79.89 L176.8 81.05 L177.8 82.07 L178.8 82.92 L179.8 83.6 L180.8 84.08 L181.8 84.37 L182.8 84.44 L183.8 84.23 L184.8 83.72 L185.8 82.91 L186.8 81.82 L187.8 80.48 L188.8 78.89 L189.8 77.09 L190.8 75.1 L191.8 72.95 L192.8 70.68 L193.8 68.3 L194.8 65.87 L195.8 63.39 L196.8 60.91 L197.8 58.45 L198.8 56.04 L199.8 53.69 L200.8 51.43 L201.8 49.27 L202.8 47.22 L203.8 45.3 L204.8 43.51 L205.8 41.85 L206.8 40.33 L207.8 38.95 L208.8 37.69 L209.8 36.57 L210.8 35.56 L211.8 34.67 L212.8 33.89 L213.8 33.21 L214.8 32.61 L215.8 32.1 L216.8 31.66 L217.8 31.29 L218.8 30.97 L219.8 30.71 L220.8 30.48 L221.8 30.3 L222.8 30.14 L223.8 30.01 L224.8 29.9 L225.8 29.81 L226.8 29.74 L227.8 29.68 L228.8 29.62 L229.8 29.57 L230.8 29.53 L231.8 29.49 L232.8 29.46 L233.8 29.42 L234.8 29.39 L235.8 29.36 L236.8 29.32 L237.8 29.29 L238.8 29.25 L239.8 29.22 L240.8 29.18 L241.8 29.14 L242.8 29.1 L243.8 29.06 L244.8 29.02 L245.8 28.98 L246.8 28.94 L247.8 28.89 L248.8 28.85 L249.8 28.8 L250.8 28.76 L251.8 28.71 L252.8 28.66 L253.8 28.61 L254.8 28.57 L255.8 28.52 L256.8 28.47 L257.8 28.42 L258.8 28.38 L259.8 28.33 L260.8 28.28 L261.8 28.24 L262.8 28.19 L263.8 28.15 L264.8 28.1 L265.8 28.06 L266.8 28.02 L267.8 27.98 L268.8 27.94 L269.8 27.9 L270.8 27.86 L271.8 27.82 L272.8 27.78 L273.8 27.75 L274.8 27.71 L275.8 27.68 L276.8 27.65 L277.8 27.62 L278.8 27.59 L279.8 27.56 L280.8 27.53 L281.8 27.51 L282.8 27.48 L283.8 27.45 L284.8 27.43 L285.8 27.41 L286.8 27.39 L287.8 27.37 L288.8 27.35 L289.8 27.33 L290.8 27.31 L291.8 27.29 L292.8 27.28 L293.8 27.26 L294.8 27.25 L295.8 27.23 L296.8 27.22 L297.8 27.21 L298.8 27.2 L299.8 27.18 L300.8 27.17 L301.8 27.16 L302.8 27.15 L303.8 27.14 L304.8 27.14 L305.8 27.13 L306.8 27.12 L307.8 27.11 L308.8 27.1 L309.8 27.1 L310.8 27.09 L311.8 27.08 L312.8 27.08 L313.8 27.07 L314.8 27.06 L315.8 27.06 L316.8 27.05 L317.8 27.05 L318.8 27.04 L319.8 27.04 L320.8 27.03 L321.8 27.03 L322.8 27.02 L323.8 27.02 L324.8 27.02 L325.8 27.01" stroke="#0000ff"/>
<path d="M44.8 25.6 L45.8 25.6 L46.8 25.61 L47.8 25.62 L48.8 25.62 L49.8 25.63 L50.8 25.64 L51.8 25.64 L52.8 25.65 L53.8 25.66 L54.8 25.67 L55.8 25.67 L56.8 25.68 L57.8 25.69 L58.8 25.69 L59.8 25.7 L60.8 25.71 L61.8 25.71 L62.8 25.72 L63.8 25.73 L64.8 25.74 L65.8 25.74 L66.8 25.75 L67.8 25.76 L68.8 25.77 L69.8 25.77 L70.8 25.78 L71.8 25.79 L72.8 25.8 L73.8 25.81 L74.8 25.81 L75.8 25.82 L76.8 25.83 L77.8 25.84 L78.8 25.85 L79.8 25.85 L80.8 25.86 L81.8 25.87 L82.8 25.88 L83.8 25.89 L84.8 25.9 L85.8 25.9 L86.8 25.91 L87.8 25.92 L88.8 25.93 L89.8 25.94 L90.8 25.95 L91.8 25.96 L92.8 25.97 L93.8 25.98 L94.8 25.99 L95.8 26 L96.8 26.01 L97.8 26.02 L98.8 26.03 L99.8 26.04 L100.8 26.05 L101.8 26.07 L102.8 26.08 L103.8 26.09 L104.8 26.1 L105.8 26.12 L106.8 26.13 L107.8 26.15 L108.8 26.16 L109.8 26.18 L110.8 26.19 L111.8 26.21 L112.8 26.23 L113.8 26.25 L114.8 26.27 L115.8 26.29 L116.8 26.32 L117.8 26.35 L118.8 26.37 L119.8 26.41 L120.8 26.44 L121.8 26.48 L122.8 26.52 L123.8 26.56 L124.8 26.61 L125.8 26.66 L126.8 26.72 L127.8 26.78 L128.8 26.85 L129.8 26.92 L130.8 27.01 L131.8 27.1 L132.8 27.2 L133.8 27.3 L134.8 27.42 L135.8 27.55 L136.8 27.69 L137.8 27.84 L138.8 28 L139.8 28.18 L140.8 28.37 L141.8 28.58 L142.8 28.8 L143.8 29.04 L144.8 29.29 L145.8 29.56 L146.8 29.85 L147.8 30.16 L148.8 30.48 L149.8 30.83 L150.8 31.19 L151.8 31.57 L152.8 31.96 L153.8 32.38 L154.8 32.81 L155.8 33.25 L156.8 33.71 L157.8 34.19 L158.8 34.68 L159.8 35.18 L160.8 35.69 L161.8 36.21 L162.8 36.73 L163.8 37.26 L164.8 37.79 L165.8 38.32 L166.8 38.85 L167.8 39.37 L168.8 39.89 L169.8 40.39 L170.8 40.89 L171.8 41.36 L172.8 41.82 L173.8 42.26 L174.8 42.68 L175.8 43.07 L176.8 43.43 L177.8 43.75 L178.8 44.04 L179.8 44.29 L180.8 44.49 L181.8 44.65 L182.8 44.76 L183.8 44.81 L184.8 44.82 L185.8 44.78 L186.8 44.7 L187.8 44.57 L188.8 44.4 L189.8 44.18 L190.8 43.93 L191.8 43.65 L192.8 43.33 L193.8 42.98 L194.8 42.61 L195.8 42.21 L196.8 41.79 L197.8 41.35 L198.8 40.9 L199.8 40.45 L200.8 39.98 L201.8 39.51 L202.8 39.04 L203.8 38.57 L204.8 38.1 L205.8 37.64 L206.8 37.19 L207.8 36.75 L208.8 36.32 L209.8 35.9 L210.8 35.5 L211.8 35.12 L212.8 34.75 L213.8 34.4 L214.8 34.06 L215.8 33.75 L216.8 33.45 L217.8 33.17 L218.8 32.91 L219.8 32.66 L220.8 32.43 L221.8 32.22 L222.8 32.02 L223.8 31.83 L224.8 31.66 L225.8 31.51 L226.8 31.36 L227.8 31.22 L228.8 31.1 L229.8 30.98 L230.8 30.87 L231.8 30.77 L232.8 30.67 L233.8 30.58 L234.8 30.49 L235.8 30.41 L236.8 30.33 L237.8 30.25 L238.8 30.17 L239.8 30.1 L240.8 30.02 L241.8 29.95 L242.8 29.88 L243.8 29.8 L244.8 29.73 L245.8 29.66 L246.8 29.58 L247.8 29.51 L248.8 29.43 L249.8 29.36 L250.8 29.28 L251.8 29.21 L252.8 29.13 L253.8 29.06 L254.8 28.98 L255.8 28.9 L256.8 28.83 L257.8 28.75 L258.8 28.67 L259.8 28.6 L260.8 28.52 L261.8 28.45 L262.8 28.38 L263.8 28.31 L264.8 28.24 L265.8 28.17 L266.8 28.1 L267.8 28.04 L268.8 27.97 L269.8 27.91 L270.8 27.85 L271.8 27.8 L272.8 27.74 L273.8 27.69 L274.8 27.64 L275.8 27.59 L276.8 27.54 L277.8 27.5 L278.8 27.46 L279.8 27.42 L280.8 27.38 L281.8 27.35 L282.8 27.31 L283.8 27.28 L284.8 27.25 L285.8 27.23 L286.8 27.2 L287.8 27.18 L288.8 27.16 L289.8 27.14 L290.8 27.12 L291.8 27.1 L292.8 27.09 L293.8 27.07 L294.8 27.06 L295.8 27.05 L296.8 27.04 L297.8 27.03 L298.8 27.02 L299.8 27.02 L300.8 27.01 L301.8 27 L302.8 27 L303.8 27 L304.8 26.99 L305.8 26.99 L306.8 26.99 L307.8 26.99 L308.8 26.99 L309.8 26.99 L310.8 26.99 L311.8 26.99 L312.8 26.99 L313.8 27 L314.8 27 L315.8 27 L316.8 27 L317.8 27.01 L318.8 27.01 L319.8 27.01 L320.8 27.02 L321.8 27.02 L322.8 27.02 L323.8 27.03 L324.8 27.03 L325.8 27.04" stroke="#000000"/>
<path d="M44.8 26.56 L45.8 26.57 L46.8 26.58 L47.8 26.59 L48.8 26.6 L49.8 26.61 L50.8 26.62 L51.8 26.63 L52.8 26.64 L53.8 26.65 L54.8 26.66 L55.8 26.67 L56.8 26.68 L57.8 26.69 L58.8 26.7 L59.8 26.71 L60.8 26.72 L61.8 26.73 L62.8 26.74 L63.8 26.75 L64.8 26.76 L65.8 26.77 L66.8 26.78 L67.8 26.79 L68.8 26.8 L69.8 26.81 L70.8 26.82 L71.8 26.83 L72.8 26.84 L73.8 26.85 L74.8 26.86 L75.8 26.87 L76.8 26.88 L77.8 26.89 L78.8 26.9 L79.8 26.91 L80.8 26.92 L81.8 26.93 L82.8 26.94 L83.8 26.95 L84.8 26.96 L85.8 26.97 L86.8 26.98 L87.8 26.99 L88.8 27 L89.8 27.02 L90.8 27.03 L91.8 27.04 L92.8 27.05 L93.8 27.06 L94.8 27.07 L95.8 27.08 L96.8 27.09 L97.8 27.11 L98.8 27.12 L99.8 27.13 L100.8 27.14 L101.8 27.15 L102.8 27.17 L103.8 27.18 L104.8 27.19 L105.8 27.2 L106.8 27.21 L107.8 27.23 L108.8 27.24 L109.8 27.25 L110.8 27.27 L111.8 27.28 L112.8 27.29 L113.8 27.31 L114.8 27.32 L115.8 27.34 L116.8 27.35 L117.8 27.37 L118.8 27.38 L119.8 27.4 L120.8 27.42 L121.8 27.43 L122.8 27.45 L123.8 27.47 L124.8 27.49 L125.8 27.52 L126.8 27.54 L127.8 27.57 L128.8 27.59 L129.8 27.62 L130.8 27.66 L131.8 27.7 L132.8 27.74 L133.8 27.78 L134.8 27.83 L135.8 27.89 L136.8 27.96 L137.8 28.03 L138.8 28.11 L139.8 28.2 L140.8 28.31 L141.8 28.43 L142.8 28.56 L143.8 28.71 L144.8 28.87 L145.8 29.06 L146.8 29.26 L147.8 29.49 L148.8 29.75 L149.8 30.03 L150.8 30.34 L151.8 30.69 L152.8 31.06 L153.8 31.48 L154.8 31.92 L155.8 32.41 L156.8 32.93 L157.8 33.5 L158.8 34.1 L159.8 34.75 L160.8 35.44 L161.8 36.16 L162.8 36.93 L163.8 37.73 L164.8 38.57 L165.8 39.44 L166.8 40.34 L167.8 41.26 L168.8 42.21 L169.8 43.17 L170.8 44.15 L171.8 45.13 L172.8 46.11 L173.8 47.09 L174.8 48.05 L175.8 48.99 L176.8 49.91 L177.8 50.79 L178.8 51.63 L179.8 52.42 L180.8 53.15 L181.8 53.82 L182.8 54.41 L183.8 54.92 L184.8 55.34 L185.8 55.67 L186.8 55.89 L187.8 56.01 L188.8 55.97 L189.8 55.68 L190.8 55.17 L191.8 54.44 L192.8 53.53 L193.8 52.48 L194.8 51.31 L195.8 50.06 L196.8 48.76 L197.8 47.44 L198.8 46.12 L199.8 44.82 L200.8 43.55 L201.8 42.34 L202.8 41.19 L203.8 40.11 L204.8 39.11 L205.8 38.18 L206.8 37.34 L207.8 36.58 L208.8 35.89 L209.8 35.28 L210.8 34.75 L211.8 34.28 L212.8 33.87 L213.8 33.52 L214.8 33.22 L215.8 32.96 L216.8 32.74 L217.8 32.56 L218.8 32.41 L219.8 32.27 L220.8 32.16 L221.8 32.07 L222.8 31.99 L223.8 31.92 L224.8 31.86 L225.8 31.8 L226.8 31.75 L227.8 31.7 L228.8 31.66 L229.8 31.61 L230.8 31.57 L231.8 31.52 L232.8 31.48 L233.8 31.43 L234.8 31.39 L235.8 31.34 L236.8 31.29 L237.8 31.23 L238.8 31.18 L239.8 31.13 L240.8 31.07 L241.8 31.01 L242.8 30.95 L243.8 30.89 L244.8 30.83 L245.8 30.77 L246.8 30.7 L247.8 30.64 L248.8 30.57 L249.8 30.51 L250.8 30.44 L251.8 30.38 L252.8 30.31 L253.8 30.25 L254.8 30.19 L255.8 30.12 L256.8 30.06 L257.8 30 L258.8 29.94 L259.8 29.88 L260.8 29.83 L261.8 29.77 L262.8 29.72 L263.8 29.67 L264.8 29.61 L265.8 29.57 L266.8 29.52 L267.8 29.48 L268.8 29.43 L269.8 29.39 L270.8 29.35 L271.8 29.32 L272.8 29.28 L273.8 29.25 L274.8 29.22 L275.8 29.19 L276.8 29.17 L277.8 29.14 L278.8 29.12 L279.8 29.1 L280.8 29.08 L281.8 29.06 L282.8 29.04 L283.8 29.03 L284.8 29.01 L285.8 29 L286.8 28.99 L287.8 28.98 L288.8 28.97 L289.8 28.97 L290.8 28.96 L291.8 28.96 L292.8 28.95 L293.8 28.95 L294.8 28.95 L295.8 28.94 L296.8 28.94 L297.8 28.94 L298.8 28.94 L299.8 28.95 L300.8 28.95 L301.8 28.95 L302.8 28.95 L303.8 28.96 L304.8 28.96 L305.8 28.96 L306.8 28.97 L307.8 28.97 L308.8 28.98 L309.8 28.98 L310.8 28.99 L311.8 28.99 L312.8 29 L313.8 29 L314.8 29.01 L315.8 29.02 L316.8 29.02 L317.8 29.03 L318.8 29.04 L319.8 29.04 L320.8 29.05 L321.8 29.06 L322.8 29.06 L323.8 29.07 L324.8 29.08 L325.8 29.09" stroke="#800080"/>
<path d="M44.8 25.52 L45.8 25.53 L46.8 25.55 L47.8 25.57 L48.8 25.58 L49.8 25.6 L50.8 25.62 L51.8 25.63 L52.8 25.65 L53.8 25.67 L54.8 25.69 L55.8 25.71 L56.8 25.72 L57.8 25.74 L58.8 25.76 L59.8 25.78 L60.8 25.8 L61.8 25.82 L62.8 25.84 L63.8 25.86 L64.8 25.89 L65.8 25.91 L66.8 25.93 L67.8 25.95 L68.8 25.98 L69.8 26 L70.8 26.02 L71.8 26.05 L72.8 26.07 L73.8 26.1 L74.8 26.12 L75.8 26.15 L76.8 26.17 L77.8 26.2 L78.8 26.23 L79.8 26.26 L80.8 26.29 L81.8 26.32 L82.8 26.35 L83.8 26.38 L84.8 26.41 L85.8 26.44 L86.8 26.48 L87.8 26.51 L88.8 26.55 L89.8 26.58 L90.8 26.62 L91.8 26.66 L92.8 26.69 L93.8 26.73 L94.8 26.77 L95.8 26.82 L96.8 26.86 L97.8 26.9 L98.8 26.95 L99.8 27 L100.8 27.04 L101.8 27.09 L102.8 27.14 L103.8 27.2 L104.8 27.25 L105.8 27.31 L106.8 27.37 L107.8 27.42 L108.8 27.49 L109.8 27.55 L110.8 27.62 L111.8 27.68 L112.8 27.75 L113.8 27.83 L114.8 27.9 L115.8 27.98 L116.8 28.06 L117.8 28.15 L118.8 28.23 L119.8 28.32 L120.8 28.42 L121.8 28.52 L122.8 28.62 L123.8 28.73 L124.8 28.84 L125.8 28.96 L126.8 29.08 L127.8 29.21 L128.8 29.35 L129.8 29.49 L130.8 29.64 L131.8 29.8 L132.8 29.97 L133.8 30.15 L134.8 30.34 L135.8 30.54 L136.8 30.76 L137.8 31 L138.8 31.25 L139.8 31.52 L140.8 31.81 L141.8 32.13 L142.8 32.48 L143.8 32.85 L144.8 33.26 L145.8 33.71 L146.8 34.19 L147.8 34.73 L148.8 35.31 L149.8 35.95 L150.8 36.65 L151.8 37.42 L152.8 38.25 L153.8 39.17 L154.8 40.16 L155.8 41.25 L156.8 42.43 L157.8 43.7 L158.8 45.09 L159.8 46.58 L160.8 48.18 L161.8 49.91 L162.8 51.76 L163.8 53.73 L164.8 55.83 L165.8 58.06 L166.8 60.42 L167.8 62.92 L168.8 65.54 L169.8 68.28 L170.8 71.15 L171.8 74.14 L172.8 77.23 L173.8 80.4 L174.8 83.64 L175.8 86.92 L176.8 90.2 L177.8 93.44 L178.8 96.6 L179.8 99.6 L180.8 102.39 L181.8 104.9 L182.8 107.06 L183.8 108.81 L184.8 110.08 L185.8 110.84 L186.8 111.05 L187.8 110.72 L188.8 109.84 L189.8 108.46 L190.8 106.61 L191.8 104.33 L192.8 101.68 L193.8 98.72 L194.8 95.51 L195.8 92.11 L196.8 88.59 L197.8 85 L198.8 81.41 L199.8 77.87 L200.8 74.42 L201.8 71.1 L202.8 67.94 L203.8 64.98 L204.8 62.23 L205.8 59.7 L206.8 57.4 L207.8 55.33 L208.8 53.49 L209.8 51.87 L210.8 50.46 L211.8 49.23 L212.8 48.19 L213.8 47.3 L214.8 46.56 L215.8 45.94 L216.8 45.43 L217.8 45.02 L218.8 44.68 L219.8 44.4 L220.8 44.17 L221.8 43.99 L222.8 43.83 L223.8 43.7 L224.8 43.58 L225.8 43.46 L226.8 43.35 L227.8 43.24 L228.8 43.13 L229.8 43.01 L230.8 42.87 L231.8 42.73 L232.8 42.58 L233.8 42.41 L234.8 42.23 L235.8 42.04 L236.8 41.83 L237.8 41.61 L238.8 41.38 L239.8 41.14 L240.8 40.89 L241.8 40.62 L242.8 40.34 L243.8 40.06 L244.8 39.77 L245.8 39.46 L246.8 39.16 L247.8 38.84 L248.8 38.52 L249.8 38.2 L250.8 37.87 L251.8 37.53 L252.8 37.2 L253.8 36.86 L254.8 36.53 L255.8 36.19 L256.8 35.86 L257.8 35.52 L258.8 35.19 L259.8 34.86 L260.8 34.53 L261.8 34.21 L262.8 33.89 L263.8 33.58 L264.8 33.27 L265.8 32.97 L266.8 32.68 L267.8 32.39 L268.8 32.11 L269.8 31.83 L270.8 31.57 L271.8 31.31 L272.8 31.06 L273.8 30.81 L274.8 30.58 L275.8 30.35 L276.8 30.13 L277.8 29.92 L278.8 29.72 L279.8 29.53 L280.8 29.34 L281.8 29.16 L282.8 28.99 L283.8 28.83 L284.8 28.68 L285.8 28.53 L286.8 28.39 L287.8 28.26 L288.8 28.14 L289.8 28.02 L290.8 27.91 L291.8 27.8 L292.8 27.7 L293.8 27.61 L294.8 27.52 L295.8 27.44 L296.8 27.37 L297.8 27.3 L298.8 27.23 L299.8 27.17 L300.8 27.11 L301.8 27.06 L302.8 27.01 L303.8 26.97 L304.8 26.92 L305.8 26.89 L306.8 26.85 L307.8 26.82 L308.8 26.79 L309.8 26.76 L310.8 26.74 L311.8 26.72 L312.8 26.7 L313.8 26.68 L314.8 26.67 L315.8 26.65 L316.8 26.64 L317.8 26.63 L318.8 26.62 L319.8 26.61 L320.8 26.61 L321.8 26.6 L322.8 26.6 L323.8 26.59 L324.8 26.59 L325.8 26.59" stroke="#000080"/>
<path d="M44.8 31.23 L45.8 31.28 L46.8 31.34 L47.8 31.39 L48.8 31.45 L49.8 31.51 L50.8 31.57 L51.8 31.63 L52.8 31.69 L53.8 31.75 L54.8 31.81 L55.8 31.88 L56.8 31.94 L57.8 32 L58.8 32.07 L59.8 32.14 L60.8 32.2 L61.8 32.27 L62.8 32.34 L63.8 32.41 L64.8 32.48 L65.8 32.56 L66.8 32.63 L67.8 32.71 L68.8 32.78 L69.8 32.86 L70.8 32.94 L71.8 33.02 L72.8 33.1 L73.8 33.19 L74.8 33.27 L75.8 33.36 L76.8 33.44 L77.8 33.53 L78.8 33.63 L79.8 33.72 L80.8 33.81 L81.8 33.91 L82.8 34.01 L83.8 34.11 L84.8 34.21 L85.8 34.32 L86.8 34.43 L87.8 34.54 L88.8 34.65 L89.8 34.77 L90.8 34.88 L91.8 35 L92.8 35.13 L93.8 35.25 L94.8 35.38 L95.8 35.52 L96.8 35.65 L97.8 35.79 L98.8 35.94 L99.8 36.09 L100.8 36.24 L101.8 36.39 L102.8 36.55 L103.8 36.72 L104.8 36.89 L105.8 37.06 L106.8 37.24 L107.8 37.43 L108.8 37.62 L109.8 37.82 L110.8 38.02 L111.8 38.23 L112.8 38.45 L113.8 38.68 L114.8 38.91 L115.8 39.15 L116.8 39.4 L117.8 39.66 L118.8 39.92 L119.8 40.2 L120.8 40.49 L121.8 40.79 L122.8 41.1 L123.8 41.42 L124.8 41.76 L125.8 42.11 L126.8 42.48 L127.8 42.86 L128.8 43.26 L129.8 43.68 L130.8 44.12 L131.8 44.58 L132.8 45.06 L133.8 45.57 L134.8 46.1 L135.8 46.66 L136.8 47.26 L137.8 47.88 L138.8 48.54 L139.8 49.24 L140.8 49.98 L141.8 50.76 L142.8 51.6 L143.8 52.48 L144.8 53.42 L145.8 54.42 L146.8 55.48 L147.8 56.61 L148.8 57.82 L149.8 59.11 L150.8 60.48 L151.8 61.94 L152.8 63.5 L153.8 65.17 L154.8 66.94 L155.8 68.83 L156.8 70.85 L157.8 73 L158.8 75.28 L159.8 77.71 L160.8 80.3 L161.8 83.05 L162.8 85.96 L163.8 89.06 L164.8 92.35 L165.8 95.83 L166.8 99.52 L167.8 103.42 L168.8 107.55 L169.8 111.9 L170.8 116.48 L171.8 121.3 L172.8 126.34 L173.8 131.58 L174.8 137 L175.8 142.56 L176.8 148.2 L177.8 153.86 L178.8 159.45 L179.8 164.86 L180.8 169.98 L181.8 174.7 L182.8 178.87 L183.8 182.37 L184.8 185.1 L185.8 186.96 L186.8 187.89 L187.8 188.03 L188.8 187.51 L189.8 186.35 L190.8 184.57 L191.8 182.22 L192.8 179.32 L193.8 175.92 L194.8 172.09 L195.8 167.87 L196.8 163.33 L197.8 158.52 L198.8 153.51 L199.8 148.36 L200.8 143.13 L201.8 137.87 L202.8 132.63 L203.8 127.47 L204.8 122.43 L205.8 117.53 L206.8 112.83 L207.8 108.34 L208.8 104.08 L209.8 100.07 L210.8 96.32 L211.8 92.84 L212.8 89.62 L213.8 86.67 L214.8 83.98 L215.8 81.54 L216.8 79.33 L217.8 77.35 L218.8 75.57 L219.8 73.99 L220.8 72.58 L221.8 71.34 L222.8 70.24 L223.8 69.26 L224.8 68.4 L225.8 67.63 L226.8 66.95 L227.8 66.33 L228.8 65.78 L229.8 65.27 L230.8 64.81 L231.8 64.37 L232.8 63.96 L233.8 63.56 L234.8 63.18 L235.8 62.81 L236.8 62.43 L237.8 62.06 L238.8 61.69 L239.8 61.31 L240.8 60.92 L241.8 60.53 L242.8 60.13 L243.8 59.72 L244.8 59.3 L245.8 58.88 L246.8 58.45 L247.8 58 L248.8 57.56 L249.8 57.1 L250.8 56.64 L251.8 56.17 L252.8 55.7 L253.8 55.22 L254.8 54.74 L255.8 54.25 L256.8 53.77 L257.8 53.28 L258.8 52.79 L259.8 52.3 L260.8 51.82 L261.8 51.33 L262.8 50.85 L263.8 50.37 L264.8 49.9 L265.8 49.43 L266.8 48.96 L267.8 48.5 L268.8 48.05 L269.8 47.6 L270.8 47.16 L271.8 46.72 L272.8 46.3 L273.8 45.88 L274.8 45.47 L275.8 45.07 L276.8 44.68 L277.8 44.3 L278.8 43.93 L279.8 43.57 L280.8 43.22 L281.8 42.88 L282.8 42.55 L283.8 42.23 L284.8 41.92 L285.8 41.62 L286.8 41.33 L287.8 41.05 L288.8 40.79 L289.8 40.53 L290.8 40.28 L291.8 40.04 L292.8 39.81 L293.8 39.6 L294.8 39.39 L295.8 39.19 L296.8 39 L297.8 38.82 L298.8 38.65 L299.8 38.48 L300.8 38.33 L301.8 38.18 L302.8 38.05 L303.8 37.91 L304.8 37.79 L305.8 37.68 L306.8 37.57 L307.8 37.47 L308.8 37.37 L309.8 37.28 L310.8 37.2 L311.8 37.12 L312.8 37.05 L313.8 36.99 L314.8 36.92 L315.8 36.87 L316.8 36.82 L317.8 36.77 L318.8 36.73 L319.8 36.69 L320.8 36.66 L321.8 36.63 L322.8 36.6 L323.8 36.57 L324.8 36.55 L325.8 36.54" stroke="#ff0000"/>
<path d="M44.8 32.04 L45.8 32.06 L46.8 32.08 L47.8 32.1 L48.8 32.12 L49.8 32.14 L50.8 32.16 L51.8 32.18 L52.8 32.2 L53.8 32.22 L54.8 32.24 L55.8 32.26 L56.8 32.28 L57.8 32.31 L58.8 32.33 L59.8 32.35 L60.8 32.37 L61.8 32.39 L62.8 32.42 L63.8 32.44 L64.8 32.47 L65.8 32.49 L66.8 32.51 L67.8 32.54 L68.8 32.56 L69.8 32.59 L70.8 32.61 L71.8 32.64 L72.8 32.67 L73.8 32.69 L74.8 32.72 L75.8 32.75 L76.8 32.77 L77.8 32.8 L78.8 32.83 L79.8 32.86 L80.8 32.89 L81.8 32.92 L82.8 32.95 L83.8 32.98 L84.8 33.01 L85.8 33.05 L86.8 33.08 L87.8 33.11 L88.8 33.15 L89.8 33.18 L90.8 33.22 L91.8 33.26 L92.8 33.29 L93.8 33.33 L94.8 33.37 L95.8 33.41 L96.8 33.45 L97.8 33.49 L98.8 33.54 L99.8 33.58 L100.8 33.63 L101.8 33.68 L102.8 33.73 L103.8 33.78 L104.8 33.83 L105.8 33.89 L106.8 33.95 L107.8 34.01 L108.8 34.07 L109.8 34.14 L110.8 34.21 L111.8 34.29 L112.8 34.37 L113.8 34.46 L114.8 34.55 L115.8 34.64 L116.8 34.75 L117.8 34.86 L118.8 34.98 L119.8 35.11 L120.8 35.25 L121.8 35.4 L122.8 35.57 L123.8 35.75 L124.8 35.94 L125.8 36.15 L126.8 36.38 L127.8 36.63 L128.8 36.9 L129.8 37.2 L130.8 37.52 L131.8 37.87 L132.8 38.25 L133.8 38.66 L134.8 39.11 L135.8 39.59 L136.8 40.12 L137.8 40.69 L138.8 41.3 L139.8 41.97 L140.8 42.68 L141.8 43.45 L142.8 44.28 L143.8 45.16 L144.8 46.11 L145.8 47.12 L146.8 48.2 L147.8 49.35 L148.8 50.57 L149.8 51.86 L150.8 53.22 L151.8 54.66 L152.8 56.18 L153.8 57.77 L154.8 59.44 L155.8 61.18 L156.8 62.99 L157.8 64.88 L158.8 66.84 L159.8 68.87 L160.8 70.96 L161.8 73.11 L162.8 75.31 L163.8 77.57 L164.8 79.86 L165.8 82.2 L166.8 84.57 L167.8 86.96 L168.8 89.36 L169.8 91.77 L170.8 94.17 L171.8 96.56 L172.8 98.92 L173.8 101.25 L174.8 103.53 L175.8 105.74 L176.8 107.88 L177.8 109.94 L178.8 111.9 L179.8 113.75 L180.8 115.47 L181.8 117.06 L182.8 118.49 L183.8 119.77 L184.8 120.88 L185.8 121.81 L186.8 122.56 L187.8 123.1 L188.8 123.45 L189.8 123.59 L190.8 123.53 L191.8 123.27 L192.8 122.81 L193.8 122.16 L194.8 121.33 L195.8 120.32 L196.8 119.14 L197.8 117.79 L198.8 116.3 L199.8 114.66 L200.8 112.89 L201.8 111.01 L202.8 109.02 L203.8 106.95 L204.8 104.79 L205.8 102.58 L206.8 100.31 L207.8 98.01 L208.8 95.68 L209.8 93.35 L210.8 91.02 L211.8 88.71 L212.8 86.42 L213.8 84.18 L214.8 81.98 L215.8 79.83 L216.8 77.76 L217.8 75.75 L218.8 73.82 L219.8 71.98 L220.8 70.22 L221.8 68.56 L222.8 66.99 L223.8 65.51 L224.8 64.13 L225.8 62.84 L226.8 61.65 L227.8 60.55 L228.8 59.54 L229.8 58.61 L230.8 57.77 L231.8 57.01 L232.8 56.32 L233.8 55.7 L234.8 55.14 L235.8 54.64 L236.8 54.2 L237.8 53.8 L238.8 53.45 L239.8 53.13 L240.8 52.84 L241.8 52.58 L242.8 52.35 L243.8 52.12 L244.8 51.92 L245.8 51.71 L246.8 51.52 L247.8 51.32 L248.8 51.12 L249.8 50.92 L250.8 50.7 L251.8 50.48 L252.8 50.25 L253.8 50 L254.8 49.73 L255.8 49.46 L256.8 49.16 L257.8 48.85 L258.8 48.53 L259.8 48.19 L260.8 47.84 L261.8 47.47 L262.8 47.09 L263.8 46.69 L264.8 46.29 L265.8 45.88 L266.8 45.46 L267.8 45.04 L268.8 44.61 L269.8 44.18 L270.8 43.74 L271.8 43.31 L272.8 42.88 L273.8 42.46 L274.8 42.04 L275.8 41.62 L276.8 41.21 L277.8 40.82 L278.8 40.43 L279.8 40.05 L280.8 39.69 L281.8 39.33 L282.8 38.99 L283.8 38.67 L284.8 38.36 L285.8 38.06 L286.8 37.77 L287.8 37.51 L288.8 37.25 L289.8 37.01 L290.8 36.79 L291.8 36.57 L292.8 36.38 L293.8 36.19 L294.8 36.02 L295.8 35.86 L296.8 35.72 L297.8 35.58 L298.8 35.46 L299.8 35.35 L300.8 35.24 L301.8 35.15 L302.8 35.06 L303.8 34.99 L304.8 34.92 L305.8 34.86 L306.8 34.8 L307.8 34.76 L308.8 34.71 L309.8 34.68 L310.8 34.64 L311.8 34.62 L312.8 34.59 L313.8 34.57 L314.8 34.56 L315.8 34.54 L316.8 34.53 L317.8 34.52 L318.8 34.52 L319.8 34.51 L320.8 34.51 L321.8 34.51 L322.8 34.51 L323.8 34.52 L324.8 34.52 L325.8 34.52" stroke="#ff00ff"/>
</g>
<rect x="44" y="10.9" width="283.1" height="209.2" fill="none" stroke="#000" stroke-width="1.8"/>
<path d="M44 27 H39.5 M44 43.09 H41.7 M44 59.18 H39.5 M44 75.28 H41.7 M44 91.37 H39.5 M44 107.46 H41.7 M44 123.55 H39.5 M44 139.64 H41.7 M44 155.74 H39.5 M44 171.83 H41.7 M44 187.92 H39.5 M44 204.01 H41.7 M44 220.1 H39.5 M44 220.1 V222.9 M84.44 220.1 V225.1 M124.88 220.1 V222.9 M165.32 220.1 V225.1 M205.76 220.1 V222.9 M246.2 220.1 V225.1 M286.64 220.1 V222.9 M327.08 220.1 V225.1" stroke="#000" stroke-width="1.6" fill="none"/>
<text x="36.5" y="30.9" text-anchor="end" font-family="Liberation Sans, sans-serif" font-weight="bold" font-size="11">0</text>
<text x="36.5" y="63.08" text-anchor="end" font-family="Liberation Sans, sans-serif" font-weight="bold" font-size="11">-20</text>
<text x="36.5" y="95.27" text-anchor="end" font-family="Liberation Sans, sans-serif" font-weight="bold" font-size="11">-40</text>
<text x="36.5" y="127.45" text-anchor="end" font-family="Liberation Sans, sans-serif" font-weight="bold" font-size="11">-60</text>
<text x="36.5" y="159.64" text-anchor="end" font-family="Liberation Sans, sans-serif" font-weight="bold" font-size="11">-80</text>
<text x="36.5" y="191.82" text-anchor="end" font-family="Liberation Sans, sans-serif" font-weight="bold" font-size="11">-100</text>
<text x="36.5" y="224" text-anchor="end" font-family="Liberation Sans, sans-serif" font-weight="bold" font-size="11">-120</text>
<text x="84.44" y="236.3" text-anchor="middle" font-family="Liberation Sans, sans-serif" font-weight="bold" font-size="11">-0.4</text>
<text x="165.32" y="236.3" text-anchor="middle" font-family="Liberation Sans, sans-serif" font-weight="bold" font-size="11">-0.2</text>
<text x="246.2" y="236.3" text-anchor="middle" font-family="Liberation Sans, sans-serif" font-weight="bold" font-size="11">0.0</text>
<text x="327.08" y="236.3" text-anchor="middle" font-family="Liberation Sans, sans-serif" font-weight="bold" font-size="11">0.2</text>
<text x="16.2" y="14.5" font-family="Liberation Sans, sans-serif" font-weight="bold" font-size="19.6">A</text>
<text x="193.4" y="253" text-anchor="middle" font-family="Liberation Serif, serif" font-weight="bold" font-size="13.3">E / V (vs Ag/AgCl)</text>
<text transform="translate(15.7 127) rotate(-90)" text-anchor="middle" font-family="Liberation Serif, serif" font-weight="bold" font-size="13">I / &#956;A</text>
<text x="250.6" y="99" font-family="Liberation Serif, serif" font-weight="bold" font-size="10.2">100 ng mL<tspan font-size="7.5" dy="-6.3">-1</tspan></text>
<text x="252.3" y="177.1" font-family="Liberation Serif, serif" font-weight="bold" font-size="10.2">10 fg mL<tspan font-size="7.5" dy="-6.3">-1</tspan></text>
<path d="M270.5 106.8 V156" stroke="#000" stroke-width="1.4"/>
<path d="M267.7 153.3 L270.5 155.3 L273.3 153.3 L270.5 162.7 Z" fill="#000"/>
<g fill="#000"><rect x="393.1" y="206.1" width="5.4" height="5.6"/><path d="M395.8 205.9 V211.9" stroke="#000" stroke-width="1.6" fill="none"/><path d="M392.7 206 H398.9 M392.7 211.8 H398.9" stroke="#000" stroke-width="1.4" fill="none"/><rect x="418.8" y="189.7" width="5.4" height="5.6"/><path d="M421.5 188.9 V196.1" stroke="#000" stroke-width="1.6" fill="none"/><path d="M418.4 189 H424.6 M418.4 196 H424.6" stroke="#000" stroke-width="1.4" fill="none"/><rect x="430" y="181.9" width="5.4" height="5.6"/><path d="M432.7 181 V188.4" stroke="#000" stroke-width="1.6" fill="none"/><path d="M429.6 181.1 H435.8 M429.6 188.3 H435.8" stroke="#000" stroke-width="1.4" fill="none"/><rect x="456" y="166" width="5.4" height="5.6"/><path d="M458.7 164.6 V173" stroke="#000" stroke-width="1.6" fill="none"/><path d="M455.6 164.7 H461.8 M455.6 172.9 H461.8" stroke="#000" stroke-width="1.4" fill="none"/><rect x="467.1" y="145.7" width="5.4" height="5.6"/><path d="M469.8 144.6 V152.4" stroke="#000" stroke-width="1.6" fill="none"/><path d="M466.7 144.7 H472.9 M466.7 152.3 H472.9" stroke="#000" stroke-width="1.4" fill="none"/><rect x="493.2" y="138.2" width="5.4" height="5.6"/><path d="M495.9 137.1 V144.9" stroke="#000" stroke-width="1.6" fill="none"/><path d="M492.8 137.2 H499 M492.8 144.8 H499" stroke="#000" stroke-width="1.4" fill="none"/><rect x="504.1" y="125.7" width="5.4" height="5.6"/><path d="M506.8 124.6 V132.4" stroke="#000" stroke-width="1.6" fill="none"/><path d="M503.7 124.7 H509.9 M503.7 132.3 H509.9" stroke="#000" stroke-width="1.4" fill="none"/><rect x="530" y="111.9" width="5.4" height="5.6"/><path d="M532.7 110.6 V118.8" stroke="#000" stroke-width="1.6" fill="none"/><path d="M529.6 110.7 H535.8 M529.6 118.7 H535.8" stroke="#000" stroke-width="1.4" fill="none"/><rect x="541.5" y="100.2" width="5.4" height="5.6"/><path d="M544.2 99.6 V106.4" stroke="#000" stroke-width="1.6" fill="none"/><path d="M541.1 99.7 H547.3 M541.1 106.3 H547.3" stroke="#000" stroke-width="1.4" fill="none"/><rect x="567.4" y="85.8" width="5.4" height="5.6"/><path d="M570.1 83.9 V93.3" stroke="#000" stroke-width="1.6" fill="none"/><path d="M567 84 H573.2 M567 93.2 H573.2" stroke="#000" stroke-width="1.4" fill="none"/><rect x="578.5" y="77.9" width="5.4" height="5.6"/><path d="M581.2 77.3 V84.1" stroke="#000" stroke-width="1.6" fill="none"/><path d="M578.1 77.4 H584.3 M578.1 84 H584.3" stroke="#000" stroke-width="1.4" fill="none"/><rect x="604.5" y="66.2" width="5.4" height="5.6"/><path d="M607.2 64.3 V73.7" stroke="#000" stroke-width="1.6" fill="none"/><path d="M604.1 64.4 H610.3 M604.1 73.6 H610.3" stroke="#000" stroke-width="1.4" fill="none"/><rect x="615.3" y="50.1" width="5.4" height="5.6"/><path d="M618 50.15 V55.65" stroke="#000" stroke-width="1.6" fill="none"/><path d="M614.9 50.25 H621.1 M614.9 55.55 H621.1" stroke="#000" stroke-width="1.4" fill="none"/><rect x="641.4" y="40.2" width="5.4" height="5.6"/><path d="M644.1 40.15 V45.85" stroke="#000" stroke-width="1.6" fill="none"/><path d="M641 40.25 H647.2 M641 45.75 H647.2" stroke="#000" stroke-width="1.4" fill="none"/><rect x="652.7" y="26.2" width="5.4" height="5.6"/><path d="M655.4 26.6 V31.4" stroke="#000" stroke-width="1.6" fill="none"/><path d="M652.3 26.7 H658.5 M652.3 31.3 H658.5" stroke="#000" stroke-width="1.4" fill="none"/></g>
<path d="M395.55 208.3 L655.25 29.94" stroke="#d01818" stroke-width="1.9"/>
<rect x="377" y="9" width="296.8" height="220" fill="none" stroke="#000" stroke-width="1.9"/>
<path d="M377 229 H374.6 M377 209 H372.4 M377 189 H374.6 M377 169 H372.4 M377 149 H374.6 M377 129 H372.4 M377 109 H374.6 M377 89 H372.4 M377 69 H374.6 M377 49 H372.4 M377 29 H374.6 M377 9 H372.4 M377 229 V231.6 M395.55 229 V233.7 M414.1 229 V231.6 M432.65 229 V233.7 M451.2 229 V231.6 M469.75 229 V233.7 M488.3 229 V231.6 M506.85 229 V233.7 M525.4 229 V231.6 M543.95 229 V233.7 M562.5 229 V231.6 M581.05 229 V233.7 M599.6 229 V231.6 M618.15 229 V233.7 M636.7 229 V231.6 M655.25 229 V233.7" stroke="#000" stroke-width="1.6" fill="none"/>
<text x="369.3" y="213" text-anchor="end" font-family="Liberation Sans, sans-serif" font-weight="bold" font-size="11">20</text>
<text x="369.3" y="173" text-anchor="end" font-family="Liberation Sans, sans-serif" font-weight="bold" font-size="11">40</text>
<text x="369.3" y="133" text-anchor="end" font-family="Liberation Sans, sans-serif" font-weight="bold" font-size="11">60</text>
<text x="369.3" y="93" text-anchor="end" font-family="Liberation Sans, sans-serif" font-weight="bold" font-size="11">80</text>
<text x="369.3" y="53" text-anchor="end" font-family="Liberation Sans, sans-serif" font-weight="bold" font-size="11">100</text>
<text x="369.3" y="13" text-anchor="end" font-family="Liberation Sans, sans-serif" font-weight="bold" font-size="11">120</text>
<text x="395.55" y="245.3" text-anchor="middle" font-family="Liberation Sans, sans-serif" font-weight="bold" font-size="11">-5</text>
<text x="432.65" y="245.3" text-anchor="middle" font-family="Liberation Sans, sans-serif" font-weight="bold" font-size="11">-4</text>
<text x="469.75" y="245.3" text-anchor="middle" font-family="Liberation Sans, sans-serif" font-weight="bold" font-size="11">-3</text>
<text x="506.85" y="245.3" text-anchor="middle" font-family="Liberation Sans, sans-serif" font-weight="bold" font-size="11">-2</text>
<text x="543.95" y="245.3" text-anchor="middle" font-family="Liberation Sans, sans-serif" font-weight="bold" font-size="11">-1</text>
<text x="581.05" y="245.3" text-anchor="middle" font-family="Liberation Sans, sans-serif" font-weight="bold" font-size="11">0</text>
<text x="618.15" y="245.3" text-anchor="middle" font-family="Liberation Sans, sans-serif" font-weight="bold" font-size="11">1</text>
<text x="655.25" y="245.3" text-anchor="middle" font-family="Liberation Sans, sans-serif" font-weight="bold" font-size="11">2</text>
<text x="334.5" y="14.7" font-family="Liberation Sans, sans-serif" font-weight="bold" font-size="19.6">B</text>
<text transform="translate(350.6 123) rotate(-90)" text-anchor="middle" font-family="Liberation Serif, serif" font-weight="bold" font-size="13">&#916;I / &#956;A</text>
<text x="492" y="260.8" font-family="Liberation Serif, serif" font-weight="bold" font-size="13.6">lgC / ng mL</text>
<text x="561.3" y="254.2" font-family="Liberation Sans, sans-serif" font-weight="bold" font-size="10">-1</text>
<text x="557.7" y="147" font-family="Liberation Serif, serif" font-weight="bold" font-size="12.7">y = 12.74x+84.05</text>
<text x="557.7" y="169.4" font-family="Liberation Serif, serif" font-weight="bold" font-size="12.7">R<tspan font-size="10" dy="-5.5">2</tspan><tspan dy="5.5">= 0.997</tspan></text>
</svg></body></html>
